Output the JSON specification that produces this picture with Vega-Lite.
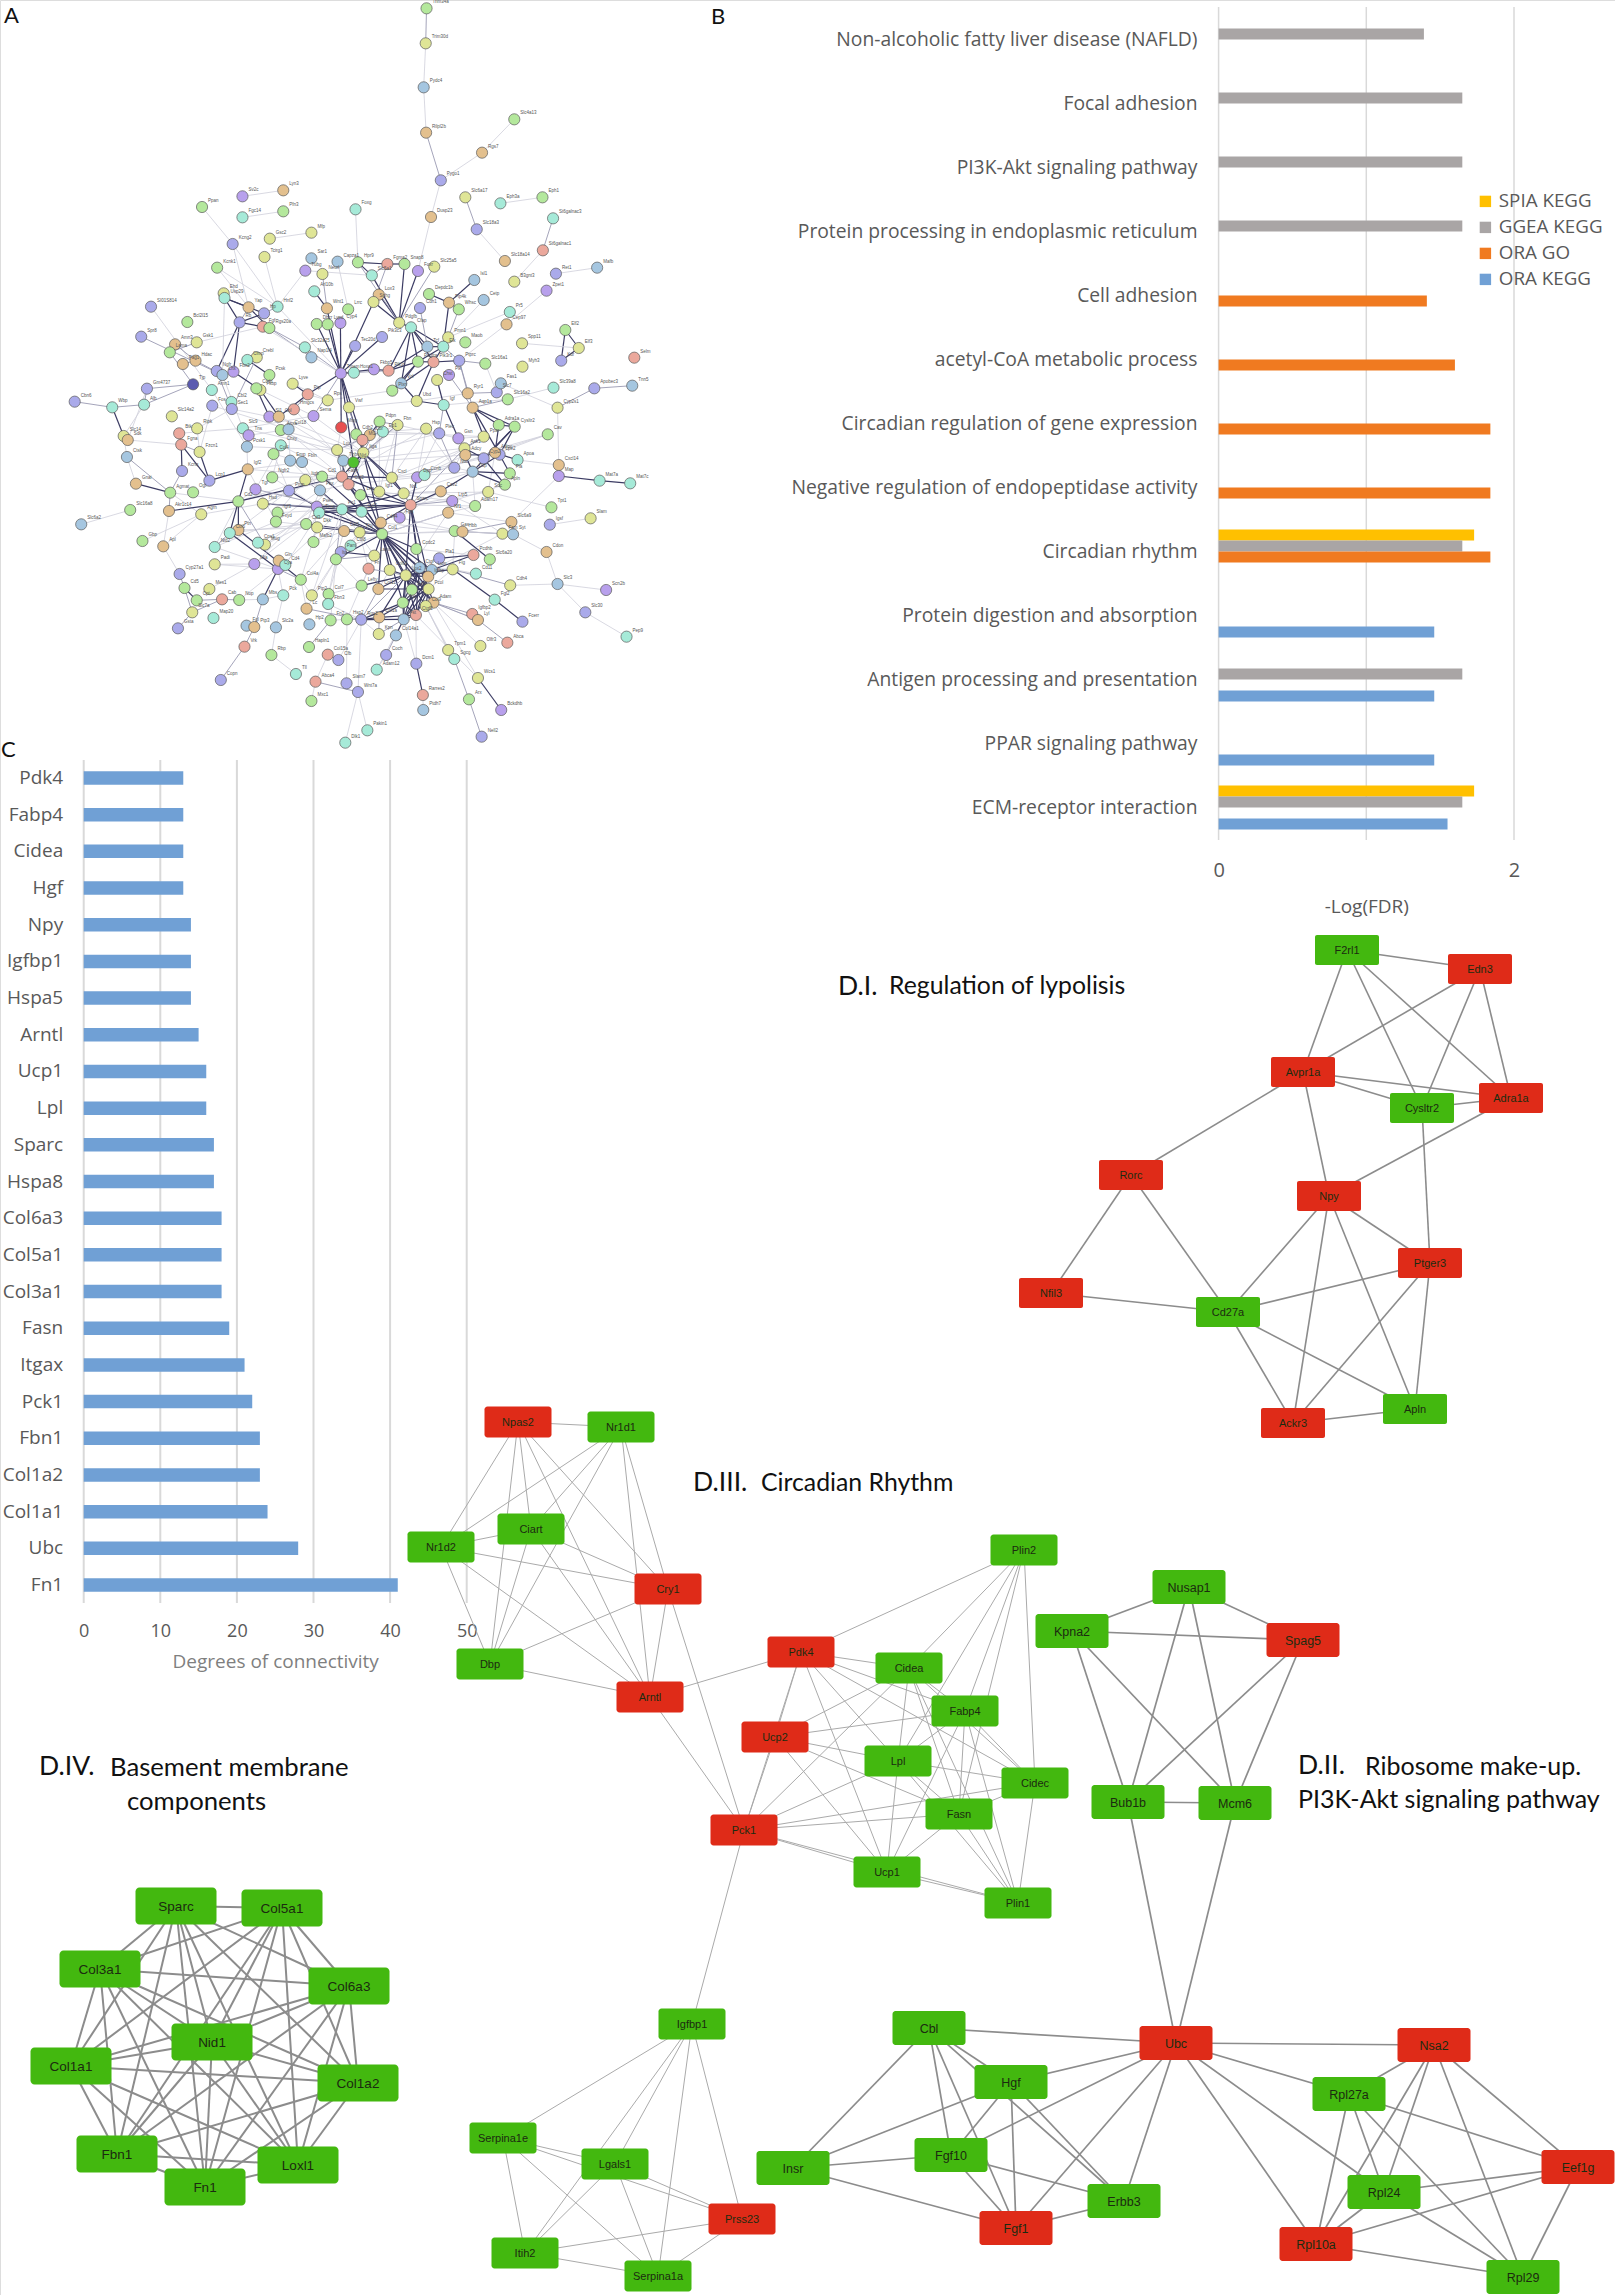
{"$schema":"https://vega.github.io/schema/vega-lite/v6.json","width":1615,"height":2295,"autosize":{"type":"none"},"padding":0,"background":"white","datasets":{
"aNodes":[{"n":"Trim34a","x":947,"y":25,"c":"g"},{"n":"Trim30d","x":945,"y":130,"c":"y"},{"n":"Pydc4","x":940,"y":262,"c":"s"},{"n":"Rilpl2b","x":946,"y":398,"c":"o"},{"n":"Pygo1","x":982,"y":541,"c":"b"},{"n":"Rgs7","x":1083,"y":458,"c":"o"},{"n":"Slc4a13","x":1162,"y":358,"c":"g"},{"n":"Slc6a17","x":1042,"y":592,"c":"y"},{"n":"Eph3a","x":1128,"y":610,"c":"t"},{"n":"Eph1","x":1231,"y":592,"c":"g"},{"n":"Dusp23","x":958,"y":651,"c":"o"},{"n":"St6galnac3","x":1257,"y":655,"c":"t"},{"n":"Slc18a3","x":1070,"y":688,"c":"b"},{"n":"Slc18a14","x":1139,"y":783,"c":"o"},{"n":"St6galnac1","x":1232,"y":751,"c":"r"},{"n":"Ret1","x":1264,"y":821,"c":"b"},{"n":"Mafb","x":1365,"y":803,"c":"s"},{"n":"B3gnt3","x":1162,"y":845,"c":"y"},{"n":"Lyn3","x":596,"y":571,"c":"o"},{"n":"Sv2c","x":496,"y":589,"c":"p"},{"n":"Ppan","x":397,"y":621,"c":"g"},{"n":"Fgc14","x":496,"y":652,"c":"t"},{"n":"Pfn3","x":596,"y":634,"c":"g"},{"n":"Foxg","x":773,"y":628,"c":"t"},{"n":"Gsc2","x":563,"y":716,"c":"y"},{"n":"Mfp","x":665,"y":698,"c":"y"},{"n":"Kcng2","x":472,"y":732,"c":"b"},{"n":"Tcirg1","x":550,"y":771,"c":"y"},{"n":"Sar1","x":665,"y":775,"c":"s"},{"n":"Capza1","x":729,"y":785,"c":"s"},{"n":"Hpr9","x":779,"y":787,"c":"g"},{"n":"Kcnk1","x":434,"y":803,"c":"g"},{"n":"Fgma2","x":851,"y":792,"c":"r"},{"n":"Snap8","x":893,"y":792,"c":"g"},{"n":"Slc25a5","x":966,"y":800,"c":"y"},{"n":"Foxr","x":926,"y":813,"c":"p"},{"n":"Tubg","x":650,"y":812,"c":"p"},{"n":"Neurl","x":692,"y":822,"c":"y"},{"n":"Slc5a1","x":813,"y":826,"c":"t"},{"n":"Isl1","x":1064,"y":840,"c":"s"},{"n":"Zpet1","x":1241,"y":872,"c":"p"},{"n":"Arl10b","x":672,"y":874,"c":"t"},{"n":"Depdc1b","x":953,"y":882,"c":"g"},{"n":"Cetp","x":1087,"y":900,"c":"s"},{"n":"Ehd","x":450,"y":880,"c":"y"},{"n":"Usp29","x":452,"y":894,"c":"t"},{"n":"Lox3","x":830,"y":884,"c":"o"},{"n":"Snhg","x":817,"y":906,"c":"y"},{"n":"Pip4k","x":1002,"y":908,"c":"o"},{"n":"Whsc","x":1026,"y":928,"c":"g"},{"n":"Cdh1","x":931,"y":924,"c":"b"},{"n":"Pr5","x":1151,"y":936,"c":"t"},{"n":"Wnt1","x":703,"y":925,"c":"o"},{"n":"Lrrc","x":755,"y":928,"c":"g"},{"n":"Hnf2","x":582,"y":920,"c":"t"},{"n":"Yap","x":511,"y":922,"c":"o"},{"n":"Hp","x":549,"y":940,"c":"b"},{"n":"Bcl2l15","x":361,"y":966,"c":"g"},{"n":"Rb","x":489,"y":967,"c":"b"},{"n":"SI01S814","x":272,"y":920,"c":"b"},{"n":"Pdgfb","x":880,"y":968,"c":"y"},{"n":"Cfap","x":909,"y":982,"c":"t"},{"n":"Fgf","x":546,"y":980,"c":"r"},{"n":"Rgs20a","x":562,"y":984,"c":"g"},{"n":"Dhcr","x":678,"y":972,"c":"g"},{"n":"Lypd","x":705,"y":973,"c":"g"},{"n":"Cyp4","x":736,"y":969,"c":"p"},{"n":"Cep97","x":1143,"y":973,"c":"o"},{"n":"Spr8","x":248,"y":1010,"c":"b"},{"n":"Elf2","x":1287,"y":990,"c":"g"},{"n":"Pik3c3","x":838,"y":1011,"c":"b"},{"n":"Pmn1","x":1000,"y":1012,"c":"y"},{"n":"Amn3","x":331,"y":1033,"c":"o"},{"n":"Gsk1","x":384,"y":1027,"c":"y"},{"n":"Elf3","x":1320,"y":1044,"c":"y"},{"n":"Spp11","x":1181,"y":1030,"c":"y"},{"n":"Tec20d","x":772,"y":1038,"c":"b"},{"n":"Tcf","x":949,"y":1040,"c":"s"},{"n":"Elk","x":988,"y":1040,"c":"t"},{"n":"Maob","x":1042,"y":1027,"c":"g"},{"n":"Slc32a25","x":649,"y":1042,"c":"t"},{"n":"Lama","x":318,"y":1057,"c":"g"},{"n":"Nap1l4","x":665,"y":1072,"c":"s"},{"n":"Hdac","x":381,"y":1082,"c":"o"},{"n":"Crebl","x":531,"y":1072,"c":"y"},{"n":"Clmp","x":508,"y":1080,"c":"t"},{"n":"Pag1","x":350,"y":1092,"c":"o"},{"n":"Slc16a1","x":1091,"y":1091,"c":"g"},{"n":"Pdgfra","x":926,"y":1085,"c":"g"},{"n":"Pik3r1","x":964,"y":1086,"c":"r"},{"n":"Ptprc","x":1027,"y":1082,"c":"b"},{"n":"Myh3","x":1182,"y":1100,"c":"y"},{"n":"Selm","x":1456,"y":1073,"c":"r"},{"n":"Kdr","x":1277,"y":1082,"c":"b"},{"n":"Fkbp5","x":818,"y":1108,"c":"p"},{"n":"Pik3r","x":854,"y":1112,"c":"r"},{"n":"Hoxa1","x":769,"y":1118,"c":"t"},{"n":"Tmem","x":737,"y":1120,"c":"p"},{"n":"Ngfr","x":433,"y":1113,"c":"b"},{"n":"Fbn2","x":474,"y":1115,"c":"p"},{"n":"Pcsk","x":562,"y":1125,"c":"g"},{"n":"Plk","x":1002,"y":1125,"c":"p"},{"n":"Chst","x":973,"y":1140,"c":"y"},
{"n":"Cbn6","x":85,"y":1205,"c":"b"},{"n":"Wbp","x":177,"y":1222,"c":"t"},{"n":"Gm4737","x":262,"y":1166,"c":"b"},{"n":"Alb","x":255,"y":1214,"c":"t"},{"n":"Tjp","x":375,"y":1153,"c":"n"},{"n":"Amn1","x":421,"y":1170,"c":"t"},{"n":"Slc14a2","x":323,"y":1249,"c":"y"},{"n":"Fos","x":422,"y":1217,"c":"b"},{"n":"Cbl2","x":469,"y":1206,"c":"t"},{"n":"Sec1","x":470,"y":1227,"c":"b"},{"n":"Lhx","x":447,"y":1125,"c":"s"},{"n":"Fkbp","x":540,"y":1170,"c":"y"},{"n":"Ccdc","x":530,"y":1165,"c":"g"},{"n":"Lyve","x":619,"y":1151,"c":"y"},{"n":"Ptp","x":656,"y":1183,"c":"r"},{"n":"Rps","x":705,"y":1201,"c":"y"},{"n":"Hmgcs","x":622,"y":1228,"c":"r"},{"n":"Sema","x":670,"y":1248,"c":"p"},{"n":"Sl1","x":562,"y":1250,"c":"p"},{"n":"Col","x":585,"y":1250,"c":"o"},{"n":"Plxn","x":863,"y":1172,"c":"g"},{"n":"Vcl","x":885,"y":1150,"c":"s"},{"n":"Ubd","x":923,"y":1203,"c":"y"},{"n":"Igf","x":989,"y":1215,"c":"t"},{"n":"Ryr1","x":1048,"y":1180,"c":"o"},{"n":"Slc16a2","x":1146,"y":1198,"c":"g"},{"n":"Slc7","x":1119,"y":1177,"c":"b"},{"n":"Fas1","x":1129,"y":1150,"c":"s"},{"n":"Slc39a8","x":1258,"y":1163,"c":"t"},{"n":"Cyp2s1","x":1268,"y":1223,"c":"y"},{"n":"Apobec3","x":1358,"y":1165,"c":"b"},{"n":"Tnn5","x":1451,"y":1157,"c":"s"},{"n":"Aqp1a","x":1060,"y":1223,"c":"o"},{"n":"Mmp","x":738,"y":1282,"c":"x"},{"n":"Vwf","x":757,"y":1222,"c":"y"},{"n":"Pdpn","x":832,"y":1265,"c":"g"},{"n":"Fbn","x":876,"y":1275,"c":"y"},{"n":"Ep1","x":840,"y":1295,"c":"t"},{"n":"Cdh2","x":775,"y":1303,"c":"g"},{"n":"Cbr","x":808,"y":1305,"c":"o"},{"n":"Mt2","x":790,"y":1320,"c":"r"},{"n":"Hsp","x":946,"y":1286,"c":"y"},{"n":"Plec","x":978,"y":1300,"c":"b"},{"n":"Gsn","x":1025,"y":1315,"c":"p"},{"n":"Ppar","x":1087,"y":1310,"c":"y"},{"n":"Adra1a","x":1124,"y":1275,"c":"g"},{"n":"Cysltr2","x":1163,"y":1280,"c":"g"},{"n":"Cav","x":1244,"y":1303,"c":"g"},{"n":"Ank1","x":1040,"y":1345,"c":"y"},{"n":"Slc14","x":205,"y":1308,"c":"y"},{"n":"Sdk","x":215,"y":1320,"c":"o"},{"n":"Ripk","x":385,"y":1285,"c":"y"},{"n":"Btk","x":341,"y":1300,"c":"r"},{"n":"Fgna","x":346,"y":1334,"c":"r"},{"n":"Fzcn1","x":391,"y":1356,"c":"y"},{"n":"Slc9","x":497,"y":1285,"c":"t"},{"n":"Tns","x":511,"y":1306,"c":"p"},{"n":"Pcsk1","x":507,"y":1340,"c":"s"},{"n":"Anxa","x":590,"y":1290,"c":"g"},{"n":"Col18","x":609,"y":1288,"c":"s"},{"n":"Chsy","x":590,"y":1336,"c":"t"},{"n":"Col4","x":572,"y":1362,"c":"g"},{"n":"Lox","x":728,"y":1350,"c":"y"},{"n":"Itga","x":792,"y":1358,"c":"y"},{"n":"Thbs","x":743,"y":1382,"c":"s"},{"n":"Nid","x":768,"y":1387,"c":"k"},{"n":"Emp","x":613,"y":1382,"c":"s"},{"n":"Fbln","x":642,"y":1386,"c":"s"},{"n":"Cxcl14","x":1271,"y":1395,"c":"o"},{"n":"Map","x":1271,"y":1428,"c":"p"},{"n":"Mat7a","x":1371,"y":1442,"c":"t"},{"n":"Mat7c","x":1446,"y":1450,"c":"t"},{"n":"Apoa","x":1170,"y":1380,"c":"t"},{"n":"Pla","x":1151,"y":1420,"c":"g"},{"n":"Lpe2","x":1126,"y":1364,"c":"b"},{"n":"Cyp2","x":1087,"y":1375,"c":"b"},{"n":"Adipo","x":1115,"y":1358,"c":"o"},{"n":"Adcy","x":1042,"y":1365,"c":"o"},{"n":"Ucp","x":1060,"y":1415,"c":"s"},{"n":"Apln","x":1139,"y":1454,"c":"g"},{"n":"Nuc","x":1015,"y":1403,"c":"b"},{"n":"Ctsk","x":213,"y":1371,"c":"s"},{"n":"Kcnq","x":348,"y":1413,"c":"b"},{"n":"Lcp1","x":415,"y":1442,"c":"b"},{"n":"Ogt","x":375,"y":1477,"c":"g"},{"n":"Agmat","x":319,"y":1478,"c":"g"},{"n":"Gnai","x":235,"y":1451,"c":"o"},{"n":"Igf2","x":509,"y":1408,"c":"o"},{"n":"Ngfr2","x":569,"y":1432,"c":"g"},{"n":"Itgb","x":650,"y":1440,"c":"y"},{"n":"Cd1","x":691,"y":1430,"c":"g"},{"n":"Fabp","x":740,"y":1430,"c":"r"},{"n":"Col2","x":756,"y":1453,"c":"r"},{"n":"Pbx","x":686,"y":1471,"c":"s"},{"n":"Tgf","x":528,"y":1468,"c":"p"},{"n":"Pmp","x":610,"y":1472,"c":"b"},{"n":"Cxcl","x":862,"y":1433,"c":"y"},{"n":"Dpp","x":924,"y":1432,"c":"p"},{"n":"Ccnb","x":942,"y":1425,"c":"t"},{"n":"Igf1","x":831,"y":1475,"c":"y"},{"n":"Lep","x":785,"y":1485,"c":"g"},{"n":"Nr1","x":891,"y":1480,"c":"y"},{"n":"Cav2","x":982,"y":1474,"c":"o"},{"n":"Lrp5","x":1010,"y":1503,"c":"p"},{"n":"Sdc","x":1098,"y":1476,"c":"y"},{"n":"Adam17","x":1066,"y":1518,"c":"g"},{"n":"Hsd","x":546,"y":1511,"c":"y"},{"n":"Cd2","x":486,"y":1504,"c":"g"},{"n":"Akr1c14","x":316,"y":1533,"c":"o"},{"n":"Slc16a8","x":221,"y":1530,"c":"g"},{"n":"Agrn","x":395,"y":1543,"c":"y"},{"n":"Slc6a2","x":101,"y":1573,"c":"s"},{"n":"Psen","x":678,"y":1520,"c":"p"},{"n":"Timp","x":684,"y":1538,"c":"t"},{"n":"Fn1","x":740,"y":1528,"c":"t"},{"n":"Col3","x":788,"y":1535,"c":"t"},{"n":"Sparc","x":908,"y":1515,"c":"r"},{"n":"Fga","x":881,"y":1553,"c":"p"},{"n":"Cd44","x":835,"y":1568,"c":"o"},{"n":"Nf1","x":1000,"y":1538,"c":"o"},{"n":"Igf3","x":582,"y":1538,"c":"g"},{"n":"Fxyd","x":578,"y":1565,"c":"g"},{"n":"Cd3","x":652,"y":1572,"c":"g"},{"n":"Dkk","x":679,"y":1582,"c":"y"},{"n":"Col5","x":745,"y":1593,"c":"o"},{"n":"Thy","x":783,"y":1597,"c":"y"},{"n":"Col1","x":838,"y":1602,"c":"g"},{"n":"Gas","x":1016,"y":1593,"c":"g"},{"n":"Hbb","x":1035,"y":1595,"c":"o"},{"n":"Fam","x":1133,"y":1601,"c":"y"},{"n":"Syt","x":1159,"y":1603,"c":"s"},{"n":"Slc6a9","x":1155,"y":1566,"c":"o"},{"n":"Igsf","x":1249,"y":1574,"c":"b"},{"n":"Slam","x":1349,"y":1555,"c":"y"},{"n":"Tpt1","x":1253,"y":1522,"c":"g"},{"n":"Ptn","x":486,"y":1590,"c":"o"},{"n":"Col6","x":465,"y":1599,"c":"t"},{"n":"Mafb2","x":670,"y":1626,"c":"g"},{"n":"Mug","x":551,"y":1634,"c":"y"},{"n":"Cps1","x":534,"y":1628,"c":"t"},{"n":"Nid2","x":428,"y":1641,"c":"t"},{"n":"Gbp","x":251,"y":1623,"c":"g"},{"n":"Apl","x":302,"y":1639,"c":"o"},{"n":"Cdon","x":1241,"y":1656,"c":"o"},{"n":"Col8","x":761,"y":1637,"c":"t"},{"n":"Lamb","x":819,"y":1667,"c":"y"},{"n":"Ccdc2","x":922,"y":1647,"c":"g"},{"n":"Pam","x":737,"y":1656,"c":"b"},{"n":"Itg","x":725,"y":1678,"c":"g"},{"n":"Pla1","x":978,"y":1675,"c":"b"},{"n":"Pcdhb","x":1062,"y":1665,"c":"r"},{"n":"Slc6a20","x":1102,"y":1678,"c":"g"},{"n":"Padi","x":428,"y":1693,"c":"y"},{"n":"Mia","x":525,"y":1692,"c":"p"},{"n":"Cya","x":583,"y":1707,"c":"p"},{"n":"Gln","x":585,"y":1682,"c":"o"},{"n":"Cd4","x":601,"y":1695,"c":"t"},{"n":"Fn","x":805,"y":1706,"c":"r"},{"n":"Col6a","x":857,"y":1710,"c":"y"},{"n":"Ctgf","x":930,"y":1703,"c":"s"},{"n":"Lum","x":960,"y":1710,"c":"s"},{"n":"Fig","x":1011,"y":1708,"c":"y"},{"n":"Cd11","x":1068,"y":1721,"c":"t"},{"n":"Cdh4","x":1152,"y":1756,"c":"y"},{"n":"Slc3","x":1268,"y":1752,"c":"s"},{"n":"Scn2b","x":1387,"y":1770,"c":"p"},{"n":"Col4a","x":639,"y":1739,"c":"g"},{"n":"Cyp27a1","x":342,"y":1722,"c":"b"},{"n":"Lox2","x":896,"y":1726,"c":"y"},{"n":"Igfbp","x":951,"y":1730,"c":"o"},{"n":"Pcol","x":952,"y":1767,"c":"y"},{"n":"Col12","x":829,"y":1767,"c":"o"},{"n":"Lefty","x":788,"y":1757,"c":"g"},{"n":"Bgn","x":911,"y":1769,"c":"g"},{"n":"Cd5","x":354,"y":1764,"c":"g"},{"n":"Mes1","x":415,"y":1767,"c":"y"},{"n":"Cpt","x":384,"y":1801,"c":"g"},{"n":"Cab","x":446,"y":1798,"c":"r"},{"n":"Nop","x":488,"y":1800,"c":"g"},{"n":"Mbs","x":546,"y":1798,"c":"s"},{"n":"Pck","x":596,"y":1786,"c":"t"},{"n":"Ptp2","x":666,"y":1786,"c":"y"},{"n":"Col7","x":707,"y":1782,"c":"g"},{"n":"Fbn3","x":706,"y":1812,"c":"t"},{"n":"Aoc","x":889,"y":1808,"c":"g"},{"n":"Adam","x":964,"y":1808,"c":"o"},{"n":"Col9","x":945,"y":1818,"c":"y"},{"n":"Lc","x":653,"y":1826,"c":"o"},{"n":"Slc7a","x":373,"y":1837,"c":"y"},{"n":"Map20","x":425,"y":1854,"c":"t"},{"n":"Gsta","x":338,"y":1885,"c":"b"},{"n":"Fgl","x":506,"y":1877,"c":"s"},{"n":"Ptp3","x":525,"y":1881,"c":"o"},{"n":"Slc2a","x":578,"y":1882,"c":"s"},{"n":"Hp2","x":660,"y":1873,"c":"s"},{"n":"Fn2","x":712,"y":1861,"c":"g"},{"n":"Hsp2","x":752,"y":1858,"c":"g"},{"n":"Rgs2","x":787,"y":1859,"c":"b"},{"n":"Col1a","x":831,"y":1852,"c":"o"},{"n":"Fst","x":891,"y":1858,"c":"s"},{"n":"Ctgf2","x":921,"y":1845,"c":"r"},{"n":"Igfbp2","x":1059,"y":1842,"c":"r"},{"n":"Lyl","x":1073,"y":1860,"c":"o"},{"n":"Fgl2","x":1114,"y":1799,"c":"t"},{"n":"Fcerr","x":1182,"y":1865,"c":"b"},{"n":"Slc30","x":1336,"y":1837,"c":"b"},{"n":"Pep9","x":1437,"y":1910,"c":"t"},{"n":"Kpn","x":830,"y":1902,"c":"y"},{"n":"Col14a1","x":872,"y":1906,"c":"s"},{"n":"Abca","x":1145,"y":1928,"c":"r"},{"n":"Olfr3","x":1079,"y":1938,"c":"y"},{"n":"Vrk","x":501,"y":1940,"c":"r"},{"n":"Rbp","x":567,"y":1965,"c":"g"},{"n":"Hapln1","x":659,"y":1941,"c":"g"},{"n":"Col15a","x":705,"y":1964,"c":"r"},{"n":"Cfb","x":731,"y":1980,"c":"b"},{"n":"Tpm1","x":1000,"y":1950,"c":"y"},{"n":"Sgcg","x":1015,"y":1977,"c":"t"},{"n":"Coch","x":848,"y":1965,"c":"b"},{"n":"Tll","x":627,"y":2022,"c":"t"},{"n":"Adam12","x":825,"y":2009,"c":"t"},{"n":"Dcm1","x":922,"y":1991,"c":"b"},{"n":"Wcs1","x":1073,"y":2034,"c":"y"},{"n":"Copn","x":443,"y":2040,"c":"b"},{"n":"Abca4","x":675,"y":2045,"c":"r"},{"n":"Slam7","x":751,"y":2050,"c":"b"},{"n":"Wnt7a","x":779,"y":2076,"c":"b"},{"n":"Rarres2","x":938,"y":2085,"c":"r"},{"n":"Arx","x":1051,"y":2098,"c":"g"},{"n":"Mxc1","x":665,"y":2103,"c":"g"},{"n":"Ptdh7","x":939,"y":2130,"c":"s"},{"n":"Bckdhb","x":1130,"y":2130,"c":"p"},{"n":"Pakin1","x":802,"y":2191,"c":"t"},{"n":"Nell2","x":1082,"y":2210,"c":"b"},{"n":"Dlk1","x":748,"y":2228,"c":"t"}],
"aEdges":[{"x":509,"y":1408,"u":740,"v":1430,"s":"l"},{"x":507,"y":1340,"u":728,"v":1350,"s":"l"},{"x":497,"y":1285,"u":728,"v":1350,"s":"l"},{"x":590,"y":1290,"u":743,"v":1382,"s":"l"},{"x":585,"y":1250,"u":792,"v":1358,"s":"l"},{"x":422,"y":1217,"u":609,"v":1288,"s":"l"},{"x":470,"y":1227,"u":562,"v":1250,"s":"l"},{"x":421,"y":1170,"u":507,"v":1340,"s":"l"},{"x":447,"y":1125,"u":497,"v":1285,"s":"l"},{"x":540,"y":1170,"u":670,"v":1248,"s":"l"},{"x":619,"y":1151,"u":705,"v":1201,"s":"l"},{"x":705,"y":1201,"u":863,"v":1172,"s":"l"},{"x":757,"y":1222,"u":923,"v":1203,"s":"l"},{"x":923,"y":1203,"u":1048,"v":1180,"s":"l"},{"x":989,"y":1215,"u":1146,"v":1198,"s":"l"},{"x":876,"y":1275,"u":1025,"v":1315,"s":"l"},{"x":840,"y":1295,"u":946,"v":1286,"s":"l"},{"x":808,"y":1305,"u":978,"v":1300,"s":"l"},{"x":728,"y":1350,"u":876,"v":1275,"s":"l"},{"x":792,"y":1358,"u":978,"v":1300,"s":"l"},{"x":743,"y":1382,"u":1040,"v":1345,"s":"l"},{"x":768,"y":1387,"u":1042,"v":1365,"s":"l"},{"x":862,"y":1433,"u":1087,"v":1375,"s":"l"},{"x":924,"y":1432,"u":1042,"v":1365,"s":"l"},{"x":942,"y":1425,"u":1115,"v":1358,"s":"l"},{"x":891,"y":1480,"u":1098,"v":1476,"s":"l"},{"x":982,"y":1474,"u":1066,"v":1518,"s":"l"},{"x":1010,"y":1503,"u":1139,"v":1454,"s":"l"},{"x":1000,"y":1538,"u":1155,"v":1566,"s":"l"},{"x":1016,"y":1593,"u":1133,"v":1601,"s":"l"},{"x":922,"y":1647,"u":1062,"v":1665,"s":"l"},{"x":930,"y":1703,"u":1068,"v":1721,"s":"l"},{"x":1011,"y":1708,"u":1016,"v":1593,"s":"l"},{"x":960,"y":1710,"u":1133,"v":1601,"s":"l"},{"x":964,"y":1808,"u":1073,"v":1860,"s":"l"},{"x":945,"y":1818,"u":1000,"v":1950,"s":"l"},{"x":921,"y":1845,"u":1073,"v":2034,"s":"l"},{"x":891,"y":1858,"u":825,"v":2009,"s":"l"},{"x":787,"y":1859,"u":830,"v":1902,"s":"l"},{"x":752,"y":1858,"u":805,"v":1706,"s":"l"},{"x":712,"y":1861,"u":725,"v":1678,"s":"l"},{"x":707,"y":1782,"u":788,"v":1757,"s":"l"},{"x":666,"y":1786,"u":639,"v":1739,"s":"l"},{"x":653,"y":1826,"u":725,"v":1678,"s":"l"},{"x":596,"y":1786,"u":639,"v":1739,"s":"l"},{"x":488,"y":1800,"u":583,"v":1707,"s":"l"},{"x":415,"y":1767,"u":525,"v":1692,"s":"l"},{"x":428,"y":1693,"u":525,"v":1692,"s":"l"},{"x":302,"y":1639,"u":395,"v":1543,"s":"l"},{"x":486,"y":1504,"u":610,"v":1472,"s":"l"},{"x":486,"y":1504,"u":528,"v":1468,"s":"l"},{"x":486,"y":1504,"u":650,"v":1440,"s":"l"},{"x":546,"y":1511,"u":610,"v":1472,"s":"l"},{"x":546,"y":1511,"u":691,"v":1430,"s":"l"},{"x":528,"y":1468,"u":590,"v":1336,"s":"l"},{"x":569,"y":1432,"u":590,"v":1336,"s":"l"},{"x":572,"y":1362,"u":610,"v":1472,"s":"l"},{"x":613,"y":1382,"u":686,"v":1471,"s":"l"},{"x":642,"y":1386,"u":686,"v":1471,"s":"l"},{"x":650,"y":1440,"u":740,"v":1430,"s":"l"},{"x":686,"y":1471,"u":756,"v":1453,"s":"l"},{"x":578,"y":1565,"u":686,"v":1471,"s":"l"},{"x":582,"y":1538,"u":650,"v":1440,"s":"l"},{"x":652,"y":1572,"u":686,"v":1471,"s":"l"},{"x":652,"y":1572,"u":551,"v":1634,"s":"l"},{"x":670,"y":1626,"u":745,"v":1593,"s":"l"},{"x":670,"y":1626,"u":788,"v":1535,"s":"l"},{"x":534,"y":1628,"u":684,"v":1538,"s":"l"},{"x":465,"y":1599,"u":652,"v":1572,"s":"l"},{"x":486,"y":1590,"u":679,"v":1582,"s":"l"},{"x":428,"y":1641,"u":578,"v":1565,"s":"l"},{"x":525,"y":1692,"u":652,"v":1572,"s":"l"},{"x":601,"y":1695,"u":684,"v":1538,"s":"l"},{"x":639,"y":1739,"u":679,"v":1582,"s":"l"},{"x":725,"y":1678,"u":745,"v":1593,"s":"l"},{"x":737,"y":1656,"u":783,"v":1597,"s":"l"},{"x":761,"y":1637,"u":783,"v":1597,"s":"l"},{"x":761,"y":1637,"u":838,"v":1602,"s":"l"},{"x":805,"y":1706,"u":783,"v":1597,"s":"l"},{"x":819,"y":1667,"u":740,"v":1528,"s":"l"},{"x":666,"y":1786,"u":725,"v":1678,"s":"l"},{"x":707,"y":1782,"u":737,"v":1656,"s":"l"},{"x":829,"y":1767,"u":857,"v":1710,"s":"l"},{"x":788,"y":1757,"u":819,"v":1667,"s":"l"},{"x":835,"y":1568,"u":1016,"v":1593,"s":"l"},{"x":881,"y":1553,"u":1035,"v":1595,"s":"l"},{"x":1000,"y":1538,"u":896,"v":1726,"s":"l"},{"x":978,"y":1675,"u":896,"v":1726,"s":"l"},{"x":1011,"y":1708,"u":930,"v":1703,"s":"l"},{"x":1011,"y":1708,"u":952,"v":1767,"s":"l"},{"x":982,"y":1474,"u":881,"v":1553,"s":"l"},{"x":891,"y":1480,"u":982,"v":1474,"s":"l"},{"x":831,"y":1475,"u":1010,"v":1503,"s":"l"},{"x":785,"y":1485,"u":982,"v":1474,"s":"l"},{"x":740,"y":1430,"u":946,"v":1286,"s":"l"},{"x":756,"y":1453,"u":924,"v":1432,"s":"l"},{"x":862,"y":1433,"u":946,"v":1286,"s":"l"},{"x":831,"y":1475,"u":832,"v":1265,"s":"l"},{"x":775,"y":1303,"u":740,"v":1430,"s":"l"},{"x":1040,"y":1345,"u":1015,"v":1403,"s":"l"},{"x":1015,"y":1403,"u":1060,"v":1415,"s":"l"},{"x":1060,"y":1415,"u":1066,"v":1518,"s":"l"},{"x":1115,"y":1358,"u":1098,"v":1476,"s":"l"},{"x":1066,"y":1518,"u":1151,"v":1420,"s":"l"},
{"x":947,"y":25,"u":945,"v":130,"s":"m"},{"x":945,"y":130,"u":940,"v":262,"s":"l"},{"x":940,"y":262,"u":946,"v":398,"s":"l"},{"x":946,"y":398,"u":982,"v":541,"s":"m"},{"x":982,"y":541,"u":1083,"v":458,"s":"l"},{"x":1083,"y":458,"u":1162,"v":358,"s":"l"},{"x":982,"y":541,"u":958,"v":651,"s":"l"},{"x":958,"y":651,"u":926,"v":813,"s":"l"},{"x":1042,"y":592,"u":1070,"v":688,"s":"m"},{"x":1070,"y":688,"u":1139,"v":783,"s":"l"},{"x":1128,"y":610,"u":1231,"v":592,"s":"l"},{"x":1257,"y":655,"u":1232,"v":751,"s":"m"},{"x":1232,"y":751,"u":1162,"v":845,"s":"l"},{"x":1264,"y":821,"u":1365,"v":803,"s":"l"},{"x":496,"y":589,"u":596,"v":571,"s":"l"},{"x":496,"y":652,"u":596,"v":634,"s":"l"},{"x":563,"y":716,"u":665,"v":698,"s":"l"},{"x":397,"y":621,"u":472,"v":732,"s":"l"},{"x":472,"y":732,"u":582,"v":920,"s":"l"},{"x":472,"y":732,"u":511,"v":922,"s":"l"},{"x":550,"y":771,"u":582,"v":920,"s":"l"},{"x":773,"y":628,"u":779,"v":787,"s":"l"},{"x":650,"y":812,"u":582,"v":920,"s":"l"},{"x":434,"y":803,"u":582,"v":920,"s":"l"},{"x":434,"y":803,"u":511,"v":922,"s":"l"},{"x":1241,"y":872,"u":1143,"v":973,"s":"l"},{"x":1143,"y":973,"u":1027,"v":1082,"s":"l"},{"x":1151,"y":936,"u":1000,"v":1012,"s":"l"},{"x":1087,"y":900,"u":1000,"v":1012,"s":"l"},{"x":1064,"y":840,"u":1002,"v":908,"s":"d"},{"x":953,"y":882,"u":1002,"v":908,"s":"d"},{"x":1002,"y":908,"u":1026,"v":928,"s":"d"},{"x":1026,"y":928,"u":1000,"v":1012,"s":"m"},{"x":1002,"y":908,"u":988,"v":1040,"s":"d"},{"x":1287,"y":990,"u":1320,"v":1044,"s":"d"},{"x":1287,"y":990,"u":1277,"v":1082,"s":"d"},{"x":1320,"y":1044,"u":1277,"v":1082,"s":"d"},{"x":1181,"y":1030,"u":1320,"v":1044,"s":"l"},{"x":272,"y":920,"u":421,"v":1170,"s":"l"},{"x":248,"y":1010,"u":447,"v":1125,"s":"m"},{"x":779,"y":787,"u":851,"v":792,"s":"d"},{"x":779,"y":787,"u":813,"v":826,"s":"d"},{"x":851,"y":792,"u":893,"v":792,"s":"d"},{"x":813,"y":826,"u":851,"v":792,"s":"m"},{"x":650,"y":812,"u":813,"v":826,"s":"l"},{"x":729,"y":785,"u":755,"v":928,"s":"l"},{"x":692,"y":822,"u":703,"v":925,"s":"m"},{"x":672,"y":874,"u":703,"v":925,"s":"d"},{"x":893,"y":792,"u":880,"v":968,"s":"d"},{"x":926,"y":813,"u":880,"v":968,"s":"d"},{"x":966,"y":800,"u":880,"v":968,"s":"m"},{"x":813,"y":826,"u":880,"v":968,"s":"d"},{"x":830,"y":884,"u":880,"v":968,"s":"d"},{"x":817,"y":906,"u":880,"v":968,"s":"d"},{"x":817,"y":906,"u":737,"v":1120,"s":"d"},{"x":779,"y":787,"u":880,"v":968,"s":"m"},{"x":851,"y":792,"u":817,"v":906,"s":"m"},{"x":880,"y":968,"u":909,"v":982,"s":"d"},{"x":909,"y":982,"u":926,"v":1085,"s":"d"},{"x":909,"y":982,"u":964,"v":1086,"s":"d"},{"x":909,"y":982,"u":988,"v":1040,"s":"d"},{"x":909,"y":982,"u":949,"v":1040,"s":"d"},{"x":909,"y":982,"u":854,"v":1112,"s":"d"},{"x":909,"y":982,"u":885,"v":1150,"s":"d"},{"x":931,"y":924,"u":949,"v":1040,"s":"m"},{"x":949,"y":1040,"u":988,"v":1040,"s":"d"},{"x":988,"y":1040,"u":926,"v":1085,"s":"d"},{"x":988,"y":1040,"u":964,"v":1086,"s":"d"},{"x":988,"y":1040,"u":1027,"v":1082,"s":"m"},{"x":1027,"y":1082,"u":1091,"v":1091,"s":"m"},{"x":964,"y":1086,"u":1027,"v":1082,"s":"d"},{"x":926,"y":1085,"u":964,"v":1086,"s":"d"},{"x":926,"y":1085,"u":854,"v":1112,"s":"d"},{"x":949,"y":1040,"u":854,"v":1112,"s":"d"},{"x":838,"y":1011,"u":737,"v":1120,"s":"d"},{"x":772,"y":1038,"u":737,"v":1120,"s":"d"},{"x":736,"y":969,"u":737,"v":1120,"s":"d"},{"x":705,"y":973,"u":737,"v":1120,"s":"d"},{"x":678,"y":972,"u":737,"v":1120,"s":"d"},{"x":703,"y":925,"u":737,"v":1120,"s":"d"},{"x":737,"y":1120,"u":769,"v":1118,"s":"d"},{"x":737,"y":1120,"u":818,"v":1108,"s":"d"},{"x":818,"y":1108,"u":854,"v":1112,"s":"d"},{"x":737,"y":1120,"u":854,"v":1112,"s":"m"},{"x":737,"y":1120,"u":757,"v":1222,"s":"d"},{"x":737,"y":1120,"u":738,"v":1282,"s":"d"},{"x":737,"y":1120,"u":790,"v":1320,"s":"d"},{"x":737,"y":1120,"u":656,"v":1183,"s":"d"},{"x":737,"y":1120,"u":768,"v":1387,"s":"d"},{"x":737,"y":1120,"u":670,"v":1248,"s":"m"},{"x":737,"y":1120,"u":649,"v":1042,"s":"m"},{"x":649,"y":1042,"u":562,"v":984,"s":"m"},{"x":562,"y":984,"u":665,"v":1072,"s":"m"},{"x":452,"y":894,"u":549,"v":940,"s":"d"},{"x":452,"y":894,"u":511,"v":922,"s":"d"},{"x":452,"y":894,"u":489,"v":967,"s":"d"},{"x":489,"y":967,"u":511,"v":922,"s":"m"},{"x":489,"y":967,"u":549,"v":940,"s":"d"},{"x":489,"y":967,"u":546,"v":980,"s":"d"},{"x":489,"y":967,"u":433,"v":1113,"s":"d"},{"x":489,"y":967,"u":474,"v":1115,"s":"d"},{"x":452,"y":894,"u":447,"v":1125,"s":"l"},{"x":511,"y":922,"u":562,"v":984,"s":"d"},{"x":549,"y":940,"u":582,"v":920,"s":"m"},{"x":384,"y":1027,"u":546,"v":980,"s":"l"},{"x":331,"y":1033,"u":381,"v":1082,"s":"m"},{"x":318,"y":1057,"u":384,"v":1027,"s":"m"},{"x":350,"y":1092,"u":381,"v":1082,"s":"m"},{"x":381,"y":1082,"u":447,"v":1125,"s":"m"},{"x":318,"y":1057,"u":375,"v":1153,"s":"m"},{"x":546,"y":980,"u":737,"v":1120,"s":"l"},{"x":582,"y":920,"u":737,"v":1120,"s":"l"},{"x":508,"y":1080,"u":562,"v":1125,"s":"d"},{"x":531,"y":1072,"u":470,"v":1227,"s":"m"},{"x":474,"y":1115,"u":540,"v":1170,"s":"d"},{"x":433,"y":1113,"u":470,"v":1227,"s":"m"},{"x":85,"y":1205,"u":177,"v":1222,"s":"m"},{"x":177,"y":1222,"u":255,"v":1214,"s":"m"},{"x":177,"y":1222,"u":205,"v":1308,"s":"d"},{"x":262,"y":1166,"u":255,"v":1214,"s":"m"},{"x":255,"y":1214,"u":375,"v":1153,"s":"m"},{"x":262,"y":1166,"u":375,"v":1153,"s":"m"},{"x":255,"y":1214,"u":205,"v":1308,"s":"l"},{"x":262,"y":1166,"u":215,"v":1320,"s":"l"},{"x":215,"y":1320,"u":346,"v":1334,"s":"l"},{"x":213,"y":1371,"u":319,"v":1478,"s":"m"},{"x":205,"y":1308,"u":213,"v":1371,"s":"l"},{"x":213,"y":1371,"u":235,"v":1451,"s":"l"},{"x":235,"y":1451,"u":319,"v":1478,"s":"d"},{"x":319,"y":1478,"u":348,"v":1413,"s":"m"},{"x":319,"y":1478,"u":395,"v":1543,"s":"l"},{"x":319,"y":1478,"u":316,"v":1533,"s":"m"},{"x":316,"y":1533,"u":486,"v":1504,"s":"d"},{"x":316,"y":1533,"u":302,"v":1639,"s":"l"},{"x":221,"y":1530,"u":101,"v":1573,"s":"l"},{"x":251,"y":1623,"u":395,"v":1543,"s":"l"},{"x":395,"y":1543,"u":546,"v":1511,"s":"l"},{"x":319,"y":1478,"u":486,"v":1504,"s":"l"},{"x":346,"y":1334,"u":341,"v":1300,"s":"m"},{"x":346,"y":1334,"u":348,"v":1413,"s":"d"},{"x":346,"y":1334,"u":415,"v":1442,"s":"d"},{"x":391,"y":1356,"u":415,"v":1442,"s":"d"},{"x":346,"y":1334,"u":391,"v":1356,"s":"m"},{"x":385,"y":1285,"u":391,"v":1356,"s":"l"},{"x":385,"y":1285,"u":470,"v":1227,"s":"l"},{"x":341,"y":1300,"u":497,"v":1285,"s":"l"},{"x":391,"y":1356,"u":422,"v":1217,"s":"l"},{"x":302,"y":1639,"u":342,"v":1722,"s":"l"},{"x":342,"y":1722,"u":354,"v":1764,"s":"m"},{"x":354,"y":1764,"u":384,"v":1801,"s":"d"},{"x":354,"y":1764,"u":373,"v":1837,"s":"m"},{"x":384,"y":1801,"u":446,"v":1798,"s":"m"},{"x":373,"y":1837,"u":446,"v":1798,"s":"m"},{"x":338,"y":1885,"u":373,"v":1837,"s":"m"},{"x":446,"y":1798,"u":488,"v":1800,"s":"m"},{"x":488,"y":1800,"u":546,"v":1798,"s":"l"},{"x":546,"y":1798,"u":583,"v":1707,"s":"d"},{"x":583,"y":1707,"u":428,"v":1641,"s":"l"},{"x":428,"y":1693,"u":583,"v":1707,"s":"l"},{"x":428,"y":1641,"u":465,"v":1599,"s":"m"},{"x":465,"y":1599,"u":583,"v":1707,"s":"d"},{"x":486,"y":1590,"u":639,"v":1739,"s":"d"},{"x":486,"y":1504,"u":465,"v":1599,"s":"d"},{"x":486,"y":1504,"u":486,"v":1590,"s":"d"},{"x":486,"y":1504,"u":551,"v":1634,"s":"m"},{"x":486,"y":1504,"u":428,"v":1641,"s":"l"},{"x":486,"y":1504,"u":509,"v":1408,"s":"d"},{"x":509,"y":1408,"u":415,"v":1442,"s":"d"},{"x":509,"y":1408,"u":507,"v":1340,"s":"l"},{"x":507,"y":1340,"u":511,"v":1306,"s":"l"},{"x":509,"y":1408,"u":642,"v":1386,"s":"l"},{"x":509,"y":1408,"u":578,"v":1565,"s":"l"},{"x":486,"y":1504,"u":740,"v":1430,"s":"d"},{"x":546,"y":1511,"u":740,"v":1528,"s":"d"},{"x":546,"y":1511,"u":678,"v":1520,"s":"m"},{"x":583,"y":1707,"u":601,"v":1695,"s":"m"},{"x":583,"y":1707,"u":639,"v":1739,"s":"m"},{"x":583,"y":1707,"u":596,"v":1786,"s":"l"},{"x":546,"y":1798,"u":596,"v":1786,"s":"l"},{"x":639,"y":1739,"u":653,"v":1826,"s":"l"},{"x":653,"y":1826,"u":787,"v":1859,"s":"m"},{"x":506,"y":1877,"u":525,"v":1881,"s":"m"},{"x":525,"y":1881,"u":546,"v":1798,"s":"m"},{"x":578,"y":1882,"u":596,"v":1786,"s":"l"},{"x":501,"y":1940,"u":525,"v":1881,"s":"m"},{"x":443,"y":2040,"u":501,"v":1940,"s":"m"},{"x":567,"y":1965,"u":578,"v":1882,"s":"l"},{"x":567,"y":1965,"u":627,"v":2022,"s":"l"},{"x":659,"y":1941,"u":712,"v":1861,"s":"m"},{"x":705,"y":1964,"u":731,"v":1980,"s":"m"},{"x":731,"y":1980,"u":787,"v":1859,"s":"l"},{"x":675,"y":2045,"u":779,"v":2076,"s":"m"},{"x":675,"y":2045,"u":705,"v":1964,"s":"l"},{"x":751,"y":2050,"u":752,"v":1858,"s":"l"},{"x":779,"y":2076,"u":748,"v":2228,"s":"l"},{"x":779,"y":2076,"u":802,"v":2191,"s":"l"},{"x":779,"y":2076,"u":787,"v":1859,"s":"l"},{"x":675,"y":2045,"u":665,"v":2103,"s":"l"},{"x":825,"y":2009,"u":848,"v":1965,"s":"l"},{"x":848,"y":1965,"u":872,"v":1906,"s":"m"},{"x":922,"y":1991,"u":938,"v":2085,"s":"d"},{"x":922,"y":1991,"u":891,"v":1858,"s":"l"},{"x":938,"y":2085,"u":939,"v":2130,"s":"l"},{"x":921,"y":1845,"u":922,"v":1991,"s":"l"},{"x":1000,"y":1950,"u":945,"v":1818,"s":"l"},{"x":1015,"y":1977,"u":1051,"v":2098,"s":"m"},{"x":1015,"y":1977,"u":945,"v":1818,"s":"l"},{"x":1051,"y":2098,"u":1082,"v":2210,"s":"m"},{"x":1073,"y":2034,"u":1130,"v":2130,"s":"d"},{"x":1073,"y":2034,"u":964,"v":1808,"s":"l"},{"x":1079,"y":1938,"u":964,"v":1808,"s":"l"},{"x":1059,"y":1842,"u":964,"v":1808,"s":"m"},{"x":1073,"y":1860,"u":1145,"v":1928,"s":"m"},{"x":1073,"y":1860,"u":964,"v":1808,"s":"m"},{"x":1114,"y":1799,"u":1182,"v":1865,"s":"d"},{"x":1011,"y":1708,"u":1114,"v":1799,"s":"d"},{"x":1011,"y":1708,"u":1152,"v":1756,"s":"m"},{"x":1152,"y":1756,"u":1268,"v":1752,"s":"l"},{"x":1268,"y":1752,"u":1387,"v":1770,"s":"l"},{"x":1268,"y":1752,"u":1336,"v":1837,"s":"l"},{"x":1336,"y":1837,"u":1437,"v":1910,"s":"l"},{"x":1241,"y":1656,"u":1268,"v":1752,"s":"l"},{"x":1159,"y":1603,"u":1241,"v":1656,"s":"l"},{"x":1035,"y":1595,"u":1159,"v":1603,"s":"m"},{"x":1133,"y":1601,"u":1035,"v":1595,"s":"l"},{"x":1155,"y":1566,"u":1035,"v":1595,"s":"m"},{"x":1035,"y":1595,"u":838,"v":1602,"s":"l"},{"x":1016,"y":1593,"u":1102,"v":1678,"s":"d"},{"x":1062,"y":1665,"u":978,"v":1675,"s":"d"},{"x":1062,"y":1665,"u":960,"v":1710,"s":"d"},{"x":1011,"y":1708,"u":1068,"v":1721,"s":"l"},{"x":1249,"y":1574,"u":1349,"v":1555,"s":"l"},{"x":1271,"y":1428,"u":1371,"v":1442,"s":"d"},{"x":1371,"y":1442,"u":1446,"v":1450,"s":"d"},{"x":1271,"y":1395,"u":1268,"v":1223,"s":"l"},{"x":1271,"y":1428,"u":1155,"v":1566,"s":"l"},{"x":1170,"y":1380,"u":1271,"v":1395,"s":"l"},{"x":1268,"y":1223,"u":1358,"v":1165,"s":"m"},{"x":1358,"y":1165,"u":1451,"v":1157,"s":"m"},{"x":1146,"y":1198,"u":1258,"v":1163,"s":"l"},{"x":1244,"y":1303,"u":1124,"v":1345,"s":"l"},{"x":1129,"y":1150,"u":1268,"v":1223,"s":"l"},{"x":1098,"y":1476,"u":1253,"v":1522,"s":"l"},{"x":1060,"y":1223,"u":1124,"v":1275,"s":"d"},{"x":1060,"y":1223,"u":1163,"v":1280,"s":"d"},{"x":1060,"y":1223,"u":1087,"v":1310,"s":"d"},{"x":1060,"y":1223,"u":1126,"v":1364,"s":"d"},{"x":1124,"y":1275,"u":1163,"v":1280,"s":"d"},{"x":1163,"y":1280,"u":1126,"v":1364,"s":"d"},{"x":1163,"y":1280,"u":1087,"v":1375,"s":"d"},{"x":1163,"y":1280,"u":1060,"v":1415,"s":"d"},{"x":1124,"y":1275,"u":1115,"v":1358,"s":"d"},{"x":1087,"y":1310,"u":1040,"v":1345,"s":"d"},{"x":1040,"y":1345,"u":1087,"v":1375,"s":"d"},{"x":1042,"y":1365,"u":1126,"v":1364,"s":"d"},{"x":1042,"y":1365,"u":1060,"v":1415,"s":"d"},{"x":1060,"y":1415,"u":1151,"v":1420,"s":"d"},{"x":1060,"y":1415,"u":1139,"v":1454,"s":"d"},{"x":1087,"y":1375,"u":1139,"v":1454,"s":"d"},{"x":1126,"y":1364,"u":1151,"v":1420,"s":"d"},{"x":1115,"y":1358,"u":1170,"v":1380,"s":"d"},{"x":1126,"y":1364,"u":1060,"v":1415,"s":"d"},{"x":1060,"y":1415,"u":982,"v":1474,"s":"d"},{"x":982,"y":1474,"u":908,"v":1515,"s":"d"},{"x":1040,"y":1345,"u":908,"v":1515,"s":"m"},{"x":1060,"y":1415,"u":862,"v":1433,"s":"l"},{"x":1087,"y":1310,"u":840,"v":1295,"s":"l"},{"x":1244,"y":1303,"u":1087,"v":1375,"s":"l"},{"x":978,"y":1300,"u":1015,"v":1403,"s":"m"},{"x":978,"y":1300,"u":989,"v":1215,"s":"m"},{"x":1025,"y":1315,"u":989,"v":1215,"s":"d"},{"x":1048,"y":1180,"u":1119,"v":1177,"s":"m"},{"x":973,"y":1140,"u":989,"v":1215,"s":"d"},{"x":923,"y":1203,"u":989,"v":1215,"s":"d"},{"x":863,"y":1172,"u":964,"v":1086,"s":"d"},{"x":863,"y":1172,"u":926,"v":1085,"s":"d"},{"x":885,"y":1150,"u":926,"v":1085,"s":"d"},{"x":923,"y":1203,"u":964,"v":1086,"s":"d"},{"x":1027,"y":1082,"u":1048,"v":1180,"s":"m"},{"x":1027,"y":1082,"u":1060,"v":1223,"s":"m"},{"x":1002,"y":1125,"u":1060,"v":1223,"s":"m"},{"x":876,"y":1275,"u":832,"v":1265,"s":"m"},{"x":876,"y":1275,"u":768,"v":1387,"s":"m"},{"x":876,"y":1275,"u":792,"v":1358,"s":"m"},{"x":876,"y":1275,"u":862,"v":1433,"s":"m"},{"x":876,"y":1275,"u":831,"v":1475,"s":"l"},{"x":1025,"y":1315,"u":1087,"v":1310,"s":"l"},{"x":946,"y":1286,"u":1015,"v":1403,"s":"l"},{"x":978,"y":1300,"u":924,"v":1432,"s":"l"},{"x":946,"y":1286,"u":924,"v":1432,"s":"l"},{"x":792,"y":1358,"u":768,"v":1387,"s":"d"},{"x":792,"y":1358,"u":740,"v":1430,"s":"d"},{"x":792,"y":1358,"u":756,"v":1453,"s":"d"},{"x":792,"y":1358,"u":862,"v":1433,"s":"d"},{"x":792,"y":1358,"u":831,"v":1475,"s":"d"},{"x":792,"y":1358,"u":891,"v":1480,"s":"d"},{"x":768,"y":1387,"u":838,"v":1602,"s":"d"},{"x":792,"y":1358,"u":838,"v":1602,"s":"d"},{"x":728,"y":1350,"u":740,"v":1430,"s":"m"},{"x":728,"y":1350,"u":756,"v":1453,"s":"d"},{"x":743,"y":1382,"u":740,"v":1430,"s":"m"},{"x":790,"y":1320,"u":792,"v":1358,"s":"d"},{"x":775,"y":1303,"u":792,"v":1358,"s":"m"},{"x":808,"y":1305,"u":728,"v":1350,"s":"m"},{"x":840,"y":1295,"u":756,"v":1453,"s":"l"},{"x":876,"y":1275,"u":740,"v":1430,"s":"l"},{"x":740,"y":1430,"u":862,"v":1433,"s":"d"},{"x":740,"y":1430,"u":831,"v":1475,"s":"d"},{"x":756,"y":1453,"u":785,"v":1485,"s":"d"},{"x":756,"y":1453,"u":838,"v":1602,"s":"d"},{"x":740,"y":1430,"u":838,"v":1602,"s":"d"},{"x":686,"y":1471,"u":740,"v":1528,"s":"d"},{"x":610,"y":1472,"u":678,"v":1520,"s":"d"},{"x":610,"y":1472,"u":740,"v":1430,"s":"l"},{"x":650,"y":1440,"u":740,"v":1528,"s":"m"},{"x":691,"y":1430,"u":788,"v":1535,"s":"d"},{"x":528,"y":1468,"u":740,"v":1528,"s":"m"},{"x":569,"y":1432,"u":691,"v":1430,"s":"l"},{"x":569,"y":1432,"u":678,"v":1520,"s":"l"},{"x":740,"y":1528,"u":788,"v":1535,"s":"d"},{"x":684,"y":1538,"u":788,"v":1535,"s":"d"},{"x":684,"y":1538,"u":740,"v":1528,"s":"d"},{"x":678,"y":1520,"u":908,"v":1515,"s":"d"},{"x":740,"y":1528,"u":908,"v":1515,"s":"d"},{"x":788,"y":1535,"u":908,"v":1515,"s":"d"},{"x":740,"y":1528,"u":838,"v":1602,"s":"d"},{"x":788,"y":1535,"u":838,"v":1602,"s":"d"},{"x":678,"y":1520,"u":838,"v":1602,"s":"d"},{"x":684,"y":1538,"u":838,"v":1602,"s":"d"},{"x":652,"y":1572,"u":838,"v":1602,"s":"d"},{"x":679,"y":1582,"u":838,"v":1602,"s":"d"},{"x":745,"y":1593,"u":838,"v":1602,"s":"d"},{"x":783,"y":1597,"u":838,"v":1602,"s":"d"},{"x":835,"y":1568,"u":838,"v":1602,"s":"d"},{"x":908,"y":1515,"u":835,"v":1568,"s":"d"},{"x":908,"y":1515,"u":881,"v":1553,"s":"m"},{"x":908,"y":1515,"u":891,"v":1480,"s":"m"},{"x":908,"y":1515,"u":862,"v":1433,"s":"m"},{"x":908,"y":1515,"u":924,"v":1432,"s":"m"},{"x":908,"y":1515,"u":922,"v":1647,"s":"d"},{"x":908,"y":1515,"u":896,"v":1726,"s":"d"},{"x":908,"y":1515,"u":930,"v":1703,"s":"d"},{"x":908,"y":1515,"u":951,"v":1730,"s":"d"},{"x":838,"y":1602,"u":819,"v":1667,"s":"d"},{"x":838,"y":1602,"u":896,"v":1726,"s":"d"},{"x":838,"y":1602,"u":930,"v":1703,"s":"d"},{"x":838,"y":1602,"u":951,"v":1730,"s":"d"},{"x":838,"y":1602,"u":952,"v":1767,"s":"d"},{"x":838,"y":1602,"u":911,"v":1769,"s":"d"},{"x":838,"y":1602,"u":889,"v":1808,"s":"d"},{"x":838,"y":1602,"u":725,"v":1678,"s":"d"},{"x":838,"y":1602,"u":922,"v":1647,"s":"d"},{"x":838,"y":1602,"u":857,"v":1710,"s":"d"},{"x":838,"y":1602,"u":964,"v":1808,"s":"d"},{"x":838,"y":1602,"u":829,"v":1767,"s":"d"},{"x":838,"y":1602,"u":960,"v":1710,"s":"d"},{"x":838,"y":1602,"u":1000,"v":1538,"s":"m"},{"x":896,"y":1726,"u":930,"v":1703,"s":"d"},{"x":896,"y":1726,"u":951,"v":1730,"s":"d"},{"x":896,"y":1726,"u":952,"v":1767,"s":"d"},{"x":896,"y":1726,"u":911,"v":1769,"s":"d"},{"x":896,"y":1726,"u":889,"v":1808,"s":"d"},{"x":896,"y":1726,"u":964,"v":1808,"s":"d"},{"x":896,"y":1726,"u":945,"v":1818,"s":"d"},{"x":896,"y":1726,"u":921,"v":1845,"s":"d"},{"x":896,"y":1726,"u":891,"v":1858,"s":"d"},{"x":896,"y":1726,"u":831,"v":1852,"s":"d"},{"x":896,"y":1726,"u":787,"v":1859,"s":"m"},{"x":896,"y":1726,"u":829,"v":1767,"s":"d"},{"x":896,"y":1726,"u":857,"v":1710,"s":"d"},{"x":896,"y":1726,"u":960,"v":1710,"s":"d"},{"x":896,"y":1726,"u":1011,"v":1708,"s":"d"},{"x":896,"y":1726,"u":788,"v":1757,"s":"d"},{"x":952,"y":1767,"u":930,"v":1703,"s":"d"},{"x":952,"y":1767,"u":911,"v":1769,"s":"d"},{"x":952,"y":1767,"u":889,"v":1808,"s":"d"},{"x":952,"y":1767,"u":964,"v":1808,"s":"d"},{"x":952,"y":1767,"u":945,"v":1818,"s":"d"},{"x":952,"y":1767,"u":921,"v":1845,"s":"d"},{"x":952,"y":1767,"u":891,"v":1858,"s":"d"},{"x":952,"y":1767,"u":829,"v":1767,"s":"d"},{"x":952,"y":1767,"u":831,"v":1852,"s":"d"},{"x":951,"y":1730,"u":889,"v":1808,"s":"d"},{"x":951,"y":1730,"u":921,"v":1845,"s":"d"},{"x":951,"y":1730,"u":891,"v":1858,"s":"d"},{"x":930,"y":1703,"u":889,"v":1808,"s":"d"},{"x":930,"y":1703,"u":921,"v":1845,"s":"d"},{"x":930,"y":1703,"u":891,"v":1858,"s":"d"},{"x":889,"y":1808,"u":787,"v":1859,"s":"d"},{"x":889,"y":1808,"u":921,"v":1845,"s":"d"},{"x":889,"y":1808,"u":891,"v":1858,"s":"d"},{"x":787,"y":1859,"u":831,"v":1852,"s":"d"},{"x":831,"y":1852,"u":921,"v":1845,"s":"d"},{"x":891,"y":1858,"u":921,"v":1845,"s":"d"},{"x":787,"y":1859,"u":891,"v":1858,"s":"d"},{"x":752,"y":1858,"u":787,"v":1859,"s":"m"},{"x":712,"y":1861,"u":752,"v":1858,"s":"l"},{"x":830,"y":1902,"u":891,"v":1858,"s":"m"},{"x":830,"y":1902,"u":831,"v":1852,"s":"m"},{"x":872,"y":1906,"u":891,"v":1858,"s":"d"},{"x":788,"y":1757,"u":725,"v":1678,"s":"l"},{"x":829,"y":1767,"u":787,"v":1859,"s":"m"},{"x":725,"y":1678,"u":819,"v":1667,"s":"m"},{"x":737,"y":1656,"u":819,"v":1667,"s":"d"},{"x":805,"y":1706,"u":896,"v":1726,"s":"m"},{"x":725,"y":1678,"u":740,"v":1528,"s":"m"},{"x":707,"y":1782,"u":725,"v":1678,"s":"l"},{"x":666,"y":1786,"u":740,"v":1528,"s":"l"},{"x":706,"y":1812,"u":787,"v":1859,"s":"l"},{"x":745,"y":1593,"u":639,"v":1739,"s":"l"},{"x":670,"y":1626,"u":678,"v":1520,"s":"l"},{"x":583,"y":1707,"u":740,"v":1528,"s":"l"},{"x":525,"y":1692,"u":740,"v":1430,"s":"l"},{"x":551,"y":1634,"u":678,"v":1520,"s":"l"},{"x":428,"y":1641,"u":610,"v":1472,"s":"l"},{"x":578,"y":1565,"u":838,"v":1602,"s":"l"},{"x":582,"y":1538,"u":740,"v":1528,"s":"l"},{"x":1016,"y":1593,"u":838,"v":1602,"s":"l"},{"x":1000,"y":1538,"u":838,"v":1602,"s":"l"},{"x":1066,"y":1518,"u":908,"v":1515,"s":"l"},{"x":1098,"y":1476,"u":908,"v":1515,"s":"l"},{"x":1010,"y":1503,"u":908,"v":1515,"s":"m"},{"x":1010,"y":1503,"u":1133,"v":1601,"s":"l"},{"x":1000,"y":1538,"u":1066,"v":1518,"s":"l"},{"x":562,"y":1250,"u":740,"v":1430,"s":"l"},{"x":585,"y":1250,"u":768,"v":1387,"s":"l"},{"x":590,"y":1290,"u":792,"v":1358,"s":"l"},{"x":622,"y":1228,"u":743,"v":1382,"s":"l"},{"x":609,"y":1288,"u":613,"v":1382,"s":"l"},{"x":590,"y":1336,"u":740,"v":1430,"s":"l"},{"x":572,"y":1362,"u":642,"v":1386,"s":"l"},{"x":540,"y":1170,"u":585,"v":1250,"s":"d"},{"x":530,"y":1165,"u":562,"v":1250,"s":"d"},{"x":497,"y":1285,"u":670,"v":1248,"s":"l"},{"x":511,"y":1306,"u":609,"v":1288,"s":"l"},{"x":656,"y":1183,"u":585,"v":1250,"s":"d"},{"x":656,"y":1183,"u":622,"v":1228,"s":"m"},{"x":619,"y":1151,"u":656,"v":1183,"s":"d"},{"x":705,"y":1201,"u":656,"v":1183,"s":"l"},{"x":469,"y":1206,"u":470,"v":1227,"s":"d"},{"x":670,"y":1248,"u":792,"v":1358,"s":"l"},{"x":757,"y":1222,"u":792,"v":1358,"s":"d"},{"x":757,"y":1222,"u":775,"v":1303,"s":"m"},{"x":738,"y":1282,"u":728,"v":1350,"s":"l"},{"x":832,"y":1265,"u":792,"v":1358,"s":"m"},{"x":832,"y":1265,"u":808,"v":1305,"s":"d"},{"x":775,"y":1303,"u":808,"v":1305,"s":"d"},{"x":808,"y":1305,"u":840,"v":1295,"s":"m"},{"x":885,"y":1150,"u":923,"v":1203,"s":"d"},{"x":863,"y":1172,"u":885,"v":1150,"s":"d"},{"x":1091,"y":1091,"u":1119,"v":1177,"s":"l"},{"x":1060,"y":1223,"u":1146,"v":1198,"s":"m"},{"x":1119,"y":1177,"u":1129,"v":1150,"s":"d"},{"x":924,"y":1432,"u":1087,"v":1310,"s":"l"},{"x":942,"y":1425,"u":1244,"v":1303,"s":"l"},{"x":891,"y":1480,"u":1060,"v":1415,"s":"l"},{"x":862,"y":1433,"u":1040,"v":1345,"s":"l"},{"x":924,"y":1432,"u":908,"v":1515,"s":"d"},{"x":862,"y":1433,"u":891,"v":1480,"s":"d"},{"x":831,"y":1475,"u":908,"v":1515,"s":"d"},{"x":785,"y":1485,"u":908,"v":1515,"s":"d"},{"x":740,"y":1528,"u":891,"v":1480,"s":"d"}],
"nodes":[{"n":"F2rl1","net":"D1","g":"green","x":1347,"y":950},{"n":"Edn3","net":"D1","g":"red","x":1480,"y":969},{"n":"Avpr1a","net":"D1","g":"red","x":1303,"y":1072},{"n":"Adra1a","net":"D1","g":"red","x":1511,"y":1098},{"n":"Cysltr2","net":"D1","g":"green","x":1422,"y":1108},{"n":"Rorc","net":"D1","g":"red","x":1131,"y":1175},{"n":"Npy","net":"D1","g":"red","x":1329,"y":1196},{"n":"Ptger3","net":"D1","g":"red","x":1430,"y":1263},{"n":"Nfil3","net":"D1","g":"red","x":1051,"y":1293},{"n":"Cd27a","net":"D1","g":"green","x":1228,"y":1312},{"n":"Ackr3","net":"D1","g":"red","x":1293,"y":1423},{"n":"Apln","net":"D1","g":"green","x":1415,"y":1409},
{"n":"Nusap1","net":"D2","g":"green","x":1189,"y":1587},{"n":"Kpna2","net":"D2","g":"green","x":1072,"y":1631},{"n":"Spag5","net":"D2","g":"red","x":1303,"y":1640},{"n":"Bub1b","net":"D2","g":"green","x":1128,"y":1802},{"n":"Mcm6","net":"D2","g":"green","x":1235,"y":1803},{"n":"Cbl","net":"D2","g":"green","x":929,"y":2028},{"n":"Ubc","net":"D2","g":"red","x":1176,"y":2043},{"n":"Hgf","net":"D2","g":"green","x":1011,"y":2082},{"n":"Fgf10","net":"D2","g":"green","x":951,"y":2155},{"n":"Insr","net":"D2","g":"green","x":793,"y":2168},{"n":"Erbb3","net":"D2","g":"green","x":1124,"y":2201},{"n":"Fgf1","net":"D2","g":"red","x":1016,"y":2228},{"n":"Nsa2","net":"D2","g":"red","x":1434,"y":2045},{"n":"Rpl27a","net":"D2","g":"green","x":1349,"y":2094},{"n":"Eef1g","net":"D2","g":"red","x":1578,"y":2167},{"n":"Rpl24","net":"D2","g":"green","x":1384,"y":2192},{"n":"Rpl10a","net":"D2","g":"red","x":1316,"y":2244},{"n":"Rpl29","net":"D2","g":"green","x":1523,"y":2277},
{"n":"Npas2","net":"D3","g":"red","x":518,"y":1422},{"n":"Nr1d1","net":"D3","g":"green","x":621,"y":1427},{"n":"Nr1d2","net":"D3","g":"green","x":441,"y":1547},{"n":"Ciart","net":"D3","g":"green","x":531,"y":1529},{"n":"Cry1","net":"D3","g":"red","x":668,"y":1589},{"n":"Dbp","net":"D3","g":"green","x":490,"y":1664},{"n":"Arntl","net":"D3","g":"red","x":650,"y":1697},{"n":"Plin2","net":"D3","g":"green","x":1024,"y":1550},{"n":"Pdk4","net":"D3","g":"red","x":801,"y":1652},{"n":"Cidea","net":"D3","g":"green","x":909,"y":1668},{"n":"Fabp4","net":"D3","g":"green","x":965,"y":1711},{"n":"Ucp2","net":"D3","g":"red","x":775,"y":1737},{"n":"Lpl","net":"D3","g":"green","x":898,"y":1761},{"n":"Cidec","net":"D3","g":"green","x":1035,"y":1783},{"n":"Fasn","net":"D3","g":"green","x":959,"y":1814},{"n":"Pck1","net":"D3","g":"red","x":744,"y":1830},{"n":"Ucp1","net":"D3","g":"green","x":887,"y":1872},{"n":"Plin1","net":"D3","g":"green","x":1018,"y":1903},{"n":"Igfbp1","net":"D3","g":"green","x":692,"y":2024},{"n":"Serpina1e","net":"D3","g":"green","x":503,"y":2138},{"n":"Lgals1","net":"D3","g":"green","x":615,"y":2164},{"n":"Prss23","net":"D3","g":"red","x":742,"y":2219},{"n":"Itih2","net":"D3","g":"green","x":525,"y":2253},{"n":"Serpina1a","net":"D3","g":"green","x":658,"y":2276},
{"n":"Sparc","net":"D4","g":"green","x":176,"y":1906},{"n":"Col5a1","net":"D4","g":"green","x":282,"y":1908},{"n":"Col3a1","net":"D4","g":"green","x":100,"y":1969},{"n":"Col6a3","net":"D4","g":"green","x":349,"y":1986},{"n":"Nid1","net":"D4","g":"green","x":212,"y":2042},{"n":"Col1a1","net":"D4","g":"green","x":71,"y":2066},{"n":"Col1a2","net":"D4","g":"green","x":358,"y":2083},{"n":"Fbn1","net":"D4","g":"green","x":117,"y":2154},{"n":"Loxl1","net":"D4","g":"green","x":298,"y":2165},{"n":"Fn1","net":"D4","g":"green","x":205,"y":2187}],
"edges":[{"a":"F2rl1","b":"Edn3","net":"D1"},{"a":"F2rl1","b":"Avpr1a","net":"D1"},{"a":"F2rl1","b":"Cysltr2","net":"D1"},{"a":"F2rl1","b":"Adra1a","net":"D1"},{"a":"Edn3","b":"Avpr1a","net":"D1"},{"a":"Edn3","b":"Cysltr2","net":"D1"},{"a":"Edn3","b":"Adra1a","net":"D1"},{"a":"Avpr1a","b":"Adra1a","net":"D1"},{"a":"Avpr1a","b":"Cysltr2","net":"D1"},{"a":"Avpr1a","b":"Rorc","net":"D1"},{"a":"Avpr1a","b":"Npy","net":"D1"},{"a":"Cysltr2","b":"Adra1a","net":"D1"},{"a":"Cysltr2","b":"Ptger3","net":"D1"},{"a":"Adra1a","b":"Npy","net":"D1"},{"a":"Rorc","b":"Nfil3","net":"D1"},{"a":"Rorc","b":"Cd27a","net":"D1"},{"a":"Npy","b":"Ptger3","net":"D1"},{"a":"Npy","b":"Cd27a","net":"D1"},{"a":"Npy","b":"Ackr3","net":"D1"},{"a":"Npy","b":"Apln","net":"D1"},{"a":"Ptger3","b":"Cd27a","net":"D1"},{"a":"Ptger3","b":"Ackr3","net":"D1"},{"a":"Ptger3","b":"Apln","net":"D1"},{"a":"Nfil3","b":"Cd27a","net":"D1"},{"a":"Cd27a","b":"Ackr3","net":"D1"},{"a":"Cd27a","b":"Apln","net":"D1"},{"a":"Ackr3","b":"Apln","net":"D1"},
{"a":"Nusap1","b":"Kpna2","net":"D2"},{"a":"Nusap1","b":"Spag5","net":"D2"},{"a":"Nusap1","b":"Bub1b","net":"D2"},{"a":"Nusap1","b":"Mcm6","net":"D2"},{"a":"Kpna2","b":"Spag5","net":"D2"},{"a":"Kpna2","b":"Bub1b","net":"D2"},{"a":"Kpna2","b":"Mcm6","net":"D2"},{"a":"Spag5","b":"Bub1b","net":"D2"},{"a":"Spag5","b":"Mcm6","net":"D2"},{"a":"Bub1b","b":"Mcm6","net":"D2"},{"a":"Bub1b","b":"Ubc","net":"D2"},{"a":"Mcm6","b":"Ubc","net":"D2"},{"a":"Cbl","b":"Ubc","net":"D2"},{"a":"Cbl","b":"Hgf","net":"D2"},{"a":"Cbl","b":"Insr","net":"D2"},{"a":"Cbl","b":"Fgf10","net":"D2"},{"a":"Cbl","b":"Fgf1","net":"D2"},{"a":"Cbl","b":"Erbb3","net":"D2"},{"a":"Hgf","b":"Ubc","net":"D2"},{"a":"Hgf","b":"Insr","net":"D2"},{"a":"Hgf","b":"Fgf10","net":"D2"},{"a":"Hgf","b":"Fgf1","net":"D2"},{"a":"Hgf","b":"Erbb3","net":"D2"},{"a":"Fgf10","b":"Ubc","net":"D2"},{"a":"Fgf10","b":"Insr","net":"D2"},{"a":"Fgf10","b":"Fgf1","net":"D2"},{"a":"Fgf10","b":"Erbb3","net":"D2"},{"a":"Insr","b":"Fgf1","net":"D2"},{"a":"Fgf1","b":"Ubc","net":"D2"},{"a":"Fgf1","b":"Erbb3","net":"D2"},{"a":"Erbb3","b":"Ubc","net":"D2"},{"a":"Ubc","b":"Nsa2","net":"D2"},{"a":"Ubc","b":"Rpl27a","net":"D2"},{"a":"Ubc","b":"Rpl24","net":"D2"},{"a":"Ubc","b":"Rpl10a","net":"D2"},{"a":"Nsa2","b":"Rpl27a","net":"D2"},{"a":"Nsa2","b":"Rpl10a","net":"D2"},{"a":"Nsa2","b":"Rpl24","net":"D2"},{"a":"Nsa2","b":"Rpl29","net":"D2"},{"a":"Nsa2","b":"Eef1g","net":"D2"},{"a":"Rpl27a","b":"Eef1g","net":"D2"},{"a":"Rpl27a","b":"Rpl10a","net":"D2"},{"a":"Rpl27a","b":"Rpl24","net":"D2"},{"a":"Rpl27a","b":"Rpl29","net":"D2"},{"a":"Rpl24","b":"Eef1g","net":"D2"},{"a":"Rpl24","b":"Rpl10a","net":"D2"},{"a":"Rpl24","b":"Rpl29","net":"D2"},{"a":"Rpl10a","b":"Eef1g","net":"D2"},{"a":"Rpl10a","b":"Rpl29","net":"D2"},{"a":"Eef1g","b":"Rpl29","net":"D2"},
{"a":"Npas2","b":"Nr1d1","net":"D3"},{"a":"Npas2","b":"Nr1d2","net":"D3"},{"a":"Npas2","b":"Dbp","net":"D3"},{"a":"Npas2","b":"Ciart","net":"D3"},{"a":"Npas2","b":"Arntl","net":"D3"},{"a":"Npas2","b":"Cry1","net":"D3"},{"a":"Nr1d1","b":"Nr1d2","net":"D3"},{"a":"Nr1d1","b":"Ciart","net":"D3"},{"a":"Nr1d1","b":"Dbp","net":"D3"},{"a":"Nr1d1","b":"Arntl","net":"D3"},{"a":"Nr1d1","b":"Cry1","net":"D3"},{"a":"Nr1d2","b":"Ciart","net":"D3"},{"a":"Nr1d2","b":"Cry1","net":"D3"},{"a":"Nr1d2","b":"Dbp","net":"D3"},{"a":"Nr1d2","b":"Arntl","net":"D3"},{"a":"Ciart","b":"Cry1","net":"D3"},{"a":"Ciart","b":"Dbp","net":"D3"},{"a":"Ciart","b":"Arntl","net":"D3"},{"a":"Cry1","b":"Dbp","net":"D3"},{"a":"Cry1","b":"Arntl","net":"D3"},{"a":"Dbp","b":"Arntl","net":"D3"},{"a":"Cry1","b":"Pck1","net":"D3"},{"a":"Arntl","b":"Pck1","net":"D3"},{"a":"Arntl","b":"Pdk4","net":"D3"},{"a":"Plin2","b":"Pdk4","net":"D3"},{"a":"Plin2","b":"Cidea","net":"D3"},{"a":"Plin2","b":"Lpl","net":"D3"},{"a":"Plin2","b":"Fabp4","net":"D3"},{"a":"Plin2","b":"Fasn","net":"D3"},{"a":"Plin2","b":"Cidec","net":"D3"},{"a":"Pdk4","b":"Cidea","net":"D3"},{"a":"Pdk4","b":"Fabp4","net":"D3"},{"a":"Pdk4","b":"Cidec","net":"D3"},{"a":"Pdk4","b":"Ucp2","net":"D3"},{"a":"Pdk4","b":"Lpl","net":"D3"},{"a":"Pdk4","b":"Ucp1","net":"D3"},{"a":"Pdk4","b":"Pck1","net":"D3"},{"a":"Cidea","b":"Ucp2","net":"D3"},{"a":"Cidea","b":"Lpl","net":"D3"},{"a":"Cidea","b":"Fabp4","net":"D3"},{"a":"Cidea","b":"Pck1","net":"D3"},{"a":"Cidea","b":"Fasn","net":"D3"},{"a":"Cidea","b":"Plin1","net":"D3"},{"a":"Cidea","b":"Cidec","net":"D3"},{"a":"Fabp4","b":"Ucp2","net":"D3"},{"a":"Fabp4","b":"Lpl","net":"D3"},{"a":"Fabp4","b":"Cidec","net":"D3"},{"a":"Fabp4","b":"Fasn","net":"D3"},{"a":"Fabp4","b":"Ucp1","net":"D3"},{"a":"Fabp4","b":"Plin1","net":"D3"},{"a":"Ucp2","b":"Lpl","net":"D3"},{"a":"Ucp2","b":"Fasn","net":"D3"},{"a":"Ucp2","b":"Ucp1","net":"D3"},{"a":"Ucp2","b":"Pck1","net":"D3"},{"a":"Lpl","b":"Pck1","net":"D3"},{"a":"Lpl","b":"Cidec","net":"D3"},{"a":"Lpl","b":"Fasn","net":"D3"},{"a":"Lpl","b":"Plin1","net":"D3"},{"a":"Lpl","b":"Ucp1","net":"D3"},{"a":"Cidec","b":"Fasn","net":"D3"},{"a":"Cidec","b":"Pck1","net":"D3"},{"a":"Cidec","b":"Plin1","net":"D3"},{"a":"Fasn","b":"Pck1","net":"D3"},{"a":"Fasn","b":"Ucp1","net":"D3"},{"a":"Fasn","b":"Plin1","net":"D3"},{"a":"Pck1","b":"Ucp1","net":"D3"},{"a":"Pck1","b":"Plin1","net":"D3"},{"a":"Ucp1","b":"Plin1","net":"D3"},{"a":"Pck1","b":"Igfbp1","net":"D3"},{"a":"Igfbp1","b":"Serpina1e","net":"D3"},{"a":"Igfbp1","b":"Lgals1","net":"D3"},{"a":"Igfbp1","b":"Itih2","net":"D3"},{"a":"Igfbp1","b":"Serpina1a","net":"D3"},{"a":"Igfbp1","b":"Prss23","net":"D3"},{"a":"Serpina1e","b":"Lgals1","net":"D3"},{"a":"Serpina1e","b":"Prss23","net":"D3"},{"a":"Serpina1e","b":"Itih2","net":"D3"},{"a":"Serpina1e","b":"Serpina1a","net":"D3"},{"a":"Lgals1","b":"Itih2","net":"D3"},{"a":"Lgals1","b":"Serpina1a","net":"D3"},{"a":"Lgals1","b":"Prss23","net":"D3"},{"a":"Prss23","b":"Itih2","net":"D3"},{"a":"Prss23","b":"Serpina1a","net":"D3"},{"a":"Itih2","b":"Serpina1a","net":"D3"},
{"a":"Sparc","b":"Col5a1","net":"D4"},{"a":"Sparc","b":"Col3a1","net":"D4"},{"a":"Sparc","b":"Col6a3","net":"D4"},{"a":"Sparc","b":"Nid1","net":"D4"},{"a":"Sparc","b":"Col1a1","net":"D4"},{"a":"Sparc","b":"Col1a2","net":"D4"},{"a":"Sparc","b":"Fbn1","net":"D4"},{"a":"Sparc","b":"Loxl1","net":"D4"},{"a":"Sparc","b":"Fn1","net":"D4"},{"a":"Col5a1","b":"Col3a1","net":"D4"},{"a":"Col5a1","b":"Col6a3","net":"D4"},{"a":"Col5a1","b":"Nid1","net":"D4"},{"a":"Col5a1","b":"Col1a1","net":"D4"},{"a":"Col5a1","b":"Col1a2","net":"D4"},{"a":"Col5a1","b":"Fbn1","net":"D4"},{"a":"Col5a1","b":"Loxl1","net":"D4"},{"a":"Col5a1","b":"Fn1","net":"D4"},{"a":"Col3a1","b":"Col6a3","net":"D4"},{"a":"Col3a1","b":"Nid1","net":"D4"},{"a":"Col3a1","b":"Col1a1","net":"D4"},{"a":"Col3a1","b":"Col1a2","net":"D4"},{"a":"Col3a1","b":"Fbn1","net":"D4"},{"a":"Col3a1","b":"Loxl1","net":"D4"},{"a":"Col3a1","b":"Fn1","net":"D4"},{"a":"Col6a3","b":"Nid1","net":"D4"},{"a":"Col6a3","b":"Col1a1","net":"D4"},{"a":"Col6a3","b":"Col1a2","net":"D4"},{"a":"Col6a3","b":"Fbn1","net":"D4"},{"a":"Col6a3","b":"Loxl1","net":"D4"},{"a":"Col6a3","b":"Fn1","net":"D4"},{"a":"Nid1","b":"Col1a1","net":"D4"},{"a":"Nid1","b":"Col1a2","net":"D4"},{"a":"Nid1","b":"Fbn1","net":"D4"},{"a":"Nid1","b":"Loxl1","net":"D4"},{"a":"Nid1","b":"Fn1","net":"D4"},{"a":"Col1a1","b":"Col1a2","net":"D4"},{"a":"Col1a1","b":"Fbn1","net":"D4"},{"a":"Col1a1","b":"Loxl1","net":"D4"},{"a":"Col1a1","b":"Fn1","net":"D4"},{"a":"Col1a2","b":"Fbn1","net":"D4"},{"a":"Col1a2","b":"Loxl1","net":"D4"},{"a":"Col1a2","b":"Fn1","net":"D4"},{"a":"Fbn1","b":"Loxl1","net":"D4"},{"a":"Fbn1","b":"Fn1","net":"D4"},{"a":"Loxl1","b":"Fn1","net":"D4"}],
"titles":[{"t":"A","x":4,"y":15,"k":"letter"},{"t":"B","x":711,"y":16,"k":"letter"},{"t":"C","x":1,"y":749,"k":"letter"},{"t":"D.I.","x":838,"y":986,"k":"head"},{"t":"Regulation of lypolisis","x":889,"y":986,"k":"sub"},{"t":"D.III.","x":693,"y":1482,"k":"head"},{"t":"Circadian Rhythm","x":761,"y":1483,"k":"sub"},{"t":"D.IV.","x":39,"y":1766,"k":"head"},{"t":"Basement membrane","x":110,"y":1767,"k":"subL"},{"t":"components","x":127,"y":1801,"k":"subL"},{"t":"D.II.","x":1298,"y":1765,"k":"head"},{"t":"Ribosome make-up.","x":1365,"y":1766,"k":"subM"},{"t":"PI3K-Akt signaling pathway","x":1298,"y":1799,"k":"subM"}],
"bGrid":[{"v":0,"a":0,"b":1},{"v":1,"a":0,"b":1},{"v":2,"a":0,"b":1}],
"cGrid":[{"v":0,"a":0,"b":1},{"v":10,"a":0,"b":1},{"v":20,"a":0,"b":1},{"v":30,"a":0,"b":1},{"v":40,"a":0,"b":1},{"v":50,"a":0,"b":1}],
"bBars":[{"p":"Non-alcoholic fatty liver disease (NAFLD)","m":"GGEA KEGG","f":1.39},{"p":"Focal adhesion","m":"GGEA KEGG","f":1.65},{"p":"PI3K-Akt signaling pathway","m":"GGEA KEGG","f":1.65},{"p":"Protein processing in endoplasmic reticulum","m":"GGEA KEGG","f":1.65},{"p":"Cell adhesion","m":"ORA GO","f":1.41},{"p":"acetyl-CoA metabolic process","m":"ORA GO","f":1.6},{"p":"Circadian regulation of gene expression","m":"ORA GO","f":1.84},{"p":"Negative regulation of endopeptidase activity","m":"ORA GO","f":1.84},{"p":"Circadian rhythm","m":"SPIA KEGG","f":1.73},{"p":"Circadian rhythm","m":"GGEA KEGG","f":1.65},{"p":"Circadian rhythm","m":"ORA GO","f":1.84},{"p":"Protein digestion and absorption","m":"ORA KEGG","f":1.46},{"p":"Antigen processing and presentation","m":"GGEA KEGG","f":1.65},{"p":"Antigen processing and presentation","m":"ORA KEGG","f":1.46},{"p":"PPAR signaling pathway","m":"ORA KEGG","f":1.46},{"p":"ECM-receptor interaction","m":"SPIA KEGG","f":1.73},{"p":"ECM-receptor interaction","m":"GGEA KEGG","f":1.65},{"p":"ECM-receptor interaction","m":"ORA KEGG","f":1.55}],
"cBars":[{"g":"Pdk4","d":13},{"g":"Fabp4","d":13},{"g":"Cidea","d":13},{"g":"Hgf","d":13},{"g":"Npy","d":14},{"g":"Igfbp1","d":14},{"g":"Hspa5","d":14},{"g":"Arntl","d":15},{"g":"Ucp1","d":16},{"g":"Lpl","d":16},{"g":"Sparc","d":17},{"g":"Hspa8","d":17},{"g":"Col6a3","d":18},{"g":"Col5a1","d":18},{"g":"Col3a1","d":18},{"g":"Fasn","d":19},{"g":"Itgax","d":21},{"g":"Pck1","d":22},{"g":"Fbn1","d":23},{"g":"Col1a2","d":23},{"g":"Col1a1","d":24},{"g":"Ubc","d":28},{"g":"Fn1","d":41}]},
"resolve":{"scale":{"x":"independent","y":"independent","color":"independent","size":"independent","yOffset":"independent"},"axis":{"x":"independent","y":"independent"},"legend":{"color":"independent","size":"independent"}},
"layer":[
{"encoding":{"x":{"field":"x","type":"quantitative","scale":{"domain":[0,1568],"range":[40,680]},"axis":null},"y":{"field":"y","type":"quantitative","scale":{"domain":[0,2250],"range":[0,750]},"axis":null}},"resolve":{"scale":{"color":"independent"},"legend":{"color":"independent"}},"layer":[
{"data":{"name":"aEdges"},"mark":{"type":"rule"},"encoding":{"x2":{"field":"u"},"y2":{"field":"v"},"color":{"field":"s","type":"nominal","scale":{"domain":["l","m","d"],"range":["#cfcfdb","#9a9ab2","#3b3b63"]},"legend":null},"size":{"field":"s","type":"nominal","scale":{"type":"ordinal","domain":["l","m","d"],"range":[0.8,0.9,1.2]},"legend":null}}},
{"data":{"name":"aNodes"},"mark":{"type":"point","shape":"circle","filled":true,"stroke":"#5a5a5a","strokeWidth":0.7,"opacity":1,"size":125},"encoding":{"fill":{"field":"c","type":"nominal","scale":{"domain":["g","y","t","b","s","o","r","p","n","x","k"],"range":["#b4e89c","#dfe596","#a6ead8","#aaaaea","#a5c6e0","#e3c08e","#eba89c","#b8a0ec","#5a5ab0","#e85050","#50c030"]},"legend":null}}},
{"data":{"name":"aNodes"},"mark":{"type":"text","fontSize":4.5,"dx":6,"dy":-6,"align":"left","color":"#555555","font":"Liberation Sans"},"encoding":{"text":{"field":"n"}}}]},
{"data":{"name":"bGrid"},"mark":{"type":"rule","color":"#d9d9d9","size":1.5},"encoding":{"x":{"field":"v","type":"quantitative","scale":{"domain":[0,2],"range":[1218.6,1514]},"axis":null},"y":{"field":"a","type":"quantitative","scale":{"domain":[0,1],"range":[840,7]},"axis":null},"y2":{"field":"b"}}},
{"data":{"name":"bBars"},"mark":{"type":"bar"},"encoding":{"x":{"field":"f","type":"quantitative","stack":null,"scale":{"domain":[0,2],"range":[1218.6,1514]},"axis":{"orient":"bottom","offset":-1455,"values":[0,1,2],"format":"d","labelFlush":false,"domain":false,"ticks":false,"grid":false,"labelFontSize":20,"labelFont":"Open Sans","labelColor":"#595959","labelPadding":20,"title":"-Log(FDR)","titleFont":"Open Sans","titleFontSize":19,"titleFontWeight":"normal","titleColor":"#595959","titlePadding":17}},"y":{"field":"p","type":"nominal","sort":null,"scale":{"domain":["Non-alcoholic fatty liver disease (NAFLD)","Focal adhesion","PI3K-Akt signaling pathway","Protein processing in endoplasmic reticulum","Cell adhesion","acetyl-CoA metabolic process","Circadian regulation of gene expression","Negative regulation of endopeptidase activity","Circadian rhythm","Protein digestion and absorption","Antigen processing and presentation","PPAR signaling pathway","ECM-receptor interaction"],"range":[7.5,839.5],"paddingInner":0,"paddingOuter":0},"axis":{"orient":"left","offset":-1197,"domain":false,"ticks":false,"grid":false,"title":null,"labelPadding":0,"labelFontSize":19.3,"labelFont":"Open Sans","labelColor":"#595959","labelLimit":600}},"yOffset":{"field":"m","type":"nominal","scale":{"domain":["SPIA KEGG","GGEA KEGG","ORA GO","ORA KEGG"],"paddingInner":0,"paddingOuter":0.91}},"color":{"field":"m","type":"nominal","scale":{"domain":["SPIA KEGG","GGEA KEGG","ORA GO","ORA KEGG"],"range":["#FFC000","#A9A5A5","#F07A20","#70A0D5"]},"legend":{"orient":"none","legendX":1476,"legendY":192,"title":null,"symbolType":"square","symbolSize":130,"labelFont":"Open Sans","labelFontSize":18.8,"labelColor":"#595959","rowPadding":6}}}},
{"data":{"name":"cGrid"},"mark":{"type":"rule","color":"#d9d9d9","size":2},"encoding":{"x":{"field":"v","type":"quantitative","scale":{"domain":[0,50],"range":[83.7,466.7]},"axis":null},"y":{"field":"a","type":"quantitative","scale":{"domain":[0,1],"range":[1603,760]},"axis":null},"y2":{"field":"b"}}},
{"data":{"name":"cBars"},"mark":{"type":"bar","color":"#70A0D5","height":13.5},"encoding":{"x":{"field":"d","type":"quantitative","scale":{"domain":[0,50],"range":[83.7,466.7]},"axis":{"orient":"bottom","offset":-692,"values":[0,10,20,30,40,50],"format":"d","labelFlush":false,"domain":false,"ticks":false,"grid":false,"labelFontSize":18,"labelFont":"Open Sans","labelColor":"#595959","labelPadding":19,"title":"Degrees of connectivity","titleFont":"Open Sans","titleFontSize":19,"titleFontWeight":"normal","titleColor":"#7f7f7f","titlePadding":12}},"y":{"field":"g","type":"nominal","sort":null,"scale":{"domain":["Pdk4","Fabp4","Cidea","Hgf","Npy","Igfbp1","Hspa5","Arntl","Ucp1","Lpl","Sparc","Hspa8","Col6a3","Col5a1","Col3a1","Fasn","Itgax","Pck1","Fbn1","Col1a2","Col1a1","Ubc","Fn1"],"range":[759.6,1603.4],"paddingInner":0,"paddingOuter":0},"axis":{"orient":"left","offset":-62.7,"domain":false,"ticks":false,"grid":false,"title":null,"labelPadding":0,"labelFontSize":19,"labelFont":"Open Sans","labelColor":"#595959"}}}},
{"encoding":{"x":{"field":"x","type":"quantitative","scale":{"domain":[0,1615],"range":[0,1615]},"axis":null},"y":{"field":"y","type":"quantitative","scale":{"domain":[0,2295],"range":[0,2295]},"axis":null}},"resolve":{"scale":{"color":"independent","size":"independent"},"legend":{"color":"independent","size":"independent"}},"layer":[
{"data":{"name":"edges"},"transform":[{"lookup":"a","from":{"data":{"name":"nodes"},"key":"n","fields":["x","y"]},"as":["xa","ya"]},{"lookup":"b","from":{"data":{"name":"nodes"},"key":"n","fields":["x","y"]},"as":["xb","yb"]}],"mark":{"type":"rule"},"encoding":{"x":{"field":"xa","type":"quantitative"},"y":{"field":"ya","type":"quantitative"},"x2":{"field":"xb"},"y2":{"field":"yb"},"color":{"field":"net","type":"nominal","scale":{"domain":["D1","D2","D3","D4"],"range":["#8c8c8c","#8c8c8c","#aaaaaa","#8c8c8c"]},"legend":null},"size":{"field":"net","type":"nominal","scale":{"type":"ordinal","domain":["D1","D2","D3","D4"],"range":[1.6,1.7,1,2]},"legend":null}}},
{"data":{"name":"nodes"},"transform":[{"filter":"datum.net=='D1'"}],"mark":{"type":"rect","width":64,"height":30,"cornerRadius":2},"encoding":{"color":{"field":"g","type":"nominal","scale":{"domain":["red","green"],"range":["#DF2B18","#43B80F"]},"legend":null}}},
{"data":{"name":"nodes"},"transform":[{"filter":"datum.net=='D2'"}],"mark":{"type":"rect","width":73,"height":34,"cornerRadius":3},"encoding":{"color":{"field":"g","type":"nominal","scale":{"domain":["red","green"],"range":["#DF2B18","#43B80F"]},"legend":null}}},
{"data":{"name":"nodes"},"transform":[{"filter":"datum.net=='D3'"}],"mark":{"type":"rect","width":67,"height":31,"cornerRadius":3},"encoding":{"color":{"field":"g","type":"nominal","scale":{"domain":["red","green"],"range":["#DF2B18","#43B80F"]},"legend":null}}},
{"data":{"name":"nodes"},"transform":[{"filter":"datum.net=='D4'"}],"mark":{"type":"rect","width":81,"height":37,"cornerRadius":4},"encoding":{"color":{"field":"g","type":"nominal","scale":{"domain":["red","green"],"range":["#DF2B18","#43B80F"]},"legend":null}}},
{"data":{"name":"nodes"},"mark":{"type":"text","font":"Liberation Sans","color":"#1b2b10","baseline":"middle","dy":1},"encoding":{"text":{"field":"n"},"size":{"field":"net","type":"nominal","scale":{"type":"ordinal","domain":["D1","D2","D3","D4"],"range":[11,12.5,11,13.5]},"legend":null}}},
{"data":{"name":"titles"},"mark":{"type":"text","font":"Lato","color":"#111111","align":"left","baseline":"middle","dy":1},"encoding":{"text":{"field":"t"},"size":{"field":"k","type":"nominal","scale":{"type":"ordinal","domain":["letter","head","sub","subL","subM"],"range":[22,26.5,24.8,25.7,25]},"legend":null}}}]}
]}
